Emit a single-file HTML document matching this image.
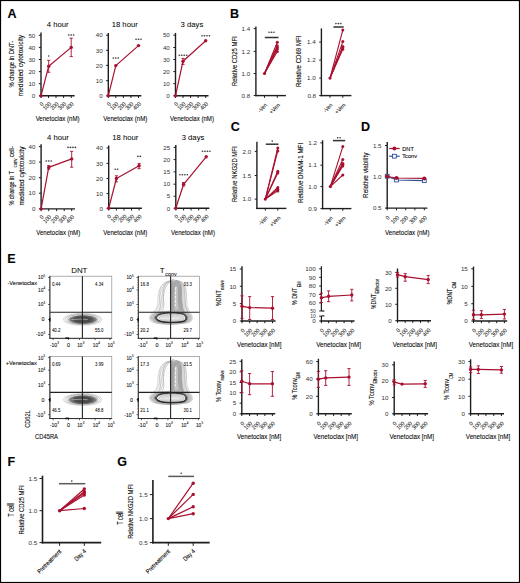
<!DOCTYPE html>
<html><head><meta charset="utf-8"><style>
html,body{margin:0;padding:0;background:#fff}
svg{display:block}
text{font-family:"Liberation Sans",sans-serif;stroke:#2a2a2a;stroke-width:0.11px}
</style></head><body>
<svg width="520" height="583" viewBox="0 0 520 583">
<rect x="0" y="0" width="520" height="583" fill="#fff"/>
<text transform="translate(7.50 17.50)" font-size="12.5" fill="#000" font-weight="bold">A</text>
<line x1="41.00" y1="32.50" x2="41.00" y2="96.50" stroke="#1e1e1e" stroke-width="1.4"/>
<line x1="38.80" y1="35.30" x2="41.00" y2="35.30" stroke="#1e1e1e" stroke-width="1.0"/>
<text transform="translate(35.30 37.53)" font-size="6.2" text-anchor="end" fill="#333" style="stroke-width:0">50</text>
<line x1="38.80" y1="47.40" x2="41.00" y2="47.40" stroke="#1e1e1e" stroke-width="1.0"/>
<text transform="translate(35.30 49.63)" font-size="6.2" text-anchor="end" fill="#333" style="stroke-width:0">40</text>
<line x1="38.80" y1="59.50" x2="41.00" y2="59.50" stroke="#1e1e1e" stroke-width="1.0"/>
<text transform="translate(35.30 61.73)" font-size="6.2" text-anchor="end" fill="#333" style="stroke-width:0">30</text>
<line x1="38.80" y1="71.60" x2="41.00" y2="71.60" stroke="#1e1e1e" stroke-width="1.0"/>
<text transform="translate(35.30 73.83)" font-size="6.2" text-anchor="end" fill="#333" style="stroke-width:0">20</text>
<line x1="38.80" y1="83.70" x2="41.00" y2="83.70" stroke="#1e1e1e" stroke-width="1.0"/>
<text transform="translate(35.30 85.93)" font-size="6.2" text-anchor="end" fill="#333" style="stroke-width:0">10</text>
<line x1="38.80" y1="95.80" x2="41.00" y2="95.80" stroke="#1e1e1e" stroke-width="1.0"/>
<text transform="translate(35.30 98.03)" font-size="6.2" text-anchor="end" fill="#333" style="stroke-width:0">0</text>
<line x1="40.30" y1="95.80" x2="74.60" y2="95.80" stroke="#1e1e1e" stroke-width="1.4"/>
<line x1="41.00" y1="95.80" x2="41.00" y2="98.00" stroke="#1e1e1e" stroke-width="1.0"/>
<line x1="48.50" y1="95.80" x2="48.50" y2="98.00" stroke="#1e1e1e" stroke-width="1.0"/>
<line x1="56.00" y1="95.80" x2="56.00" y2="98.00" stroke="#1e1e1e" stroke-width="1.0"/>
<line x1="63.60" y1="95.80" x2="63.60" y2="98.00" stroke="#1e1e1e" stroke-width="1.0"/>
<line x1="71.20" y1="95.80" x2="71.20" y2="98.00" stroke="#1e1e1e" stroke-width="1.0"/>
<text transform="translate(44.00 104.30) rotate(-45) scale(0.8840 1)" font-size="6.0" text-anchor="end" style="stroke-width:0.03px">0</text>
<text transform="translate(51.50 104.30) rotate(-45) scale(0.8840 1)" font-size="6.0" text-anchor="end" style="stroke-width:0.03px">100</text>
<text transform="translate(59.00 104.30) rotate(-45) scale(0.8840 1)" font-size="6.0" text-anchor="end" style="stroke-width:0.03px">200</text>
<text transform="translate(66.60 104.30) rotate(-45) scale(0.8840 1)" font-size="6.0" text-anchor="end" style="stroke-width:0.03px">300</text>
<text transform="translate(74.20 104.30) rotate(-45) scale(0.8840 1)" font-size="6.0" text-anchor="end" style="stroke-width:0.03px">400</text>
<line x1="48.70" y1="60.30" x2="48.70" y2="72.30" stroke="#a8102f" stroke-width="0.9"/>
<line x1="47.10" y1="60.30" x2="50.30" y2="60.30" stroke="#a8102f" stroke-width="0.9"/>
<line x1="47.10" y1="72.30" x2="50.30" y2="72.30" stroke="#a8102f" stroke-width="0.9"/>
<line x1="71.20" y1="38.20" x2="71.20" y2="56.60" stroke="#a8102f" stroke-width="0.9"/>
<line x1="69.60" y1="38.20" x2="72.80" y2="38.20" stroke="#a8102f" stroke-width="0.9"/>
<line x1="69.60" y1="56.60" x2="72.80" y2="56.60" stroke="#a8102f" stroke-width="0.9"/>
<polyline points="41.00,95.80 48.70,66.20 71.20,47.40" fill="none" stroke="#a8102f" stroke-width="1.2" stroke-linejoin="round"/>
<circle cx="41.00" cy="95.80" r="1.7" fill="#a8102f"/>
<circle cx="48.70" cy="66.20" r="1.7" fill="#a8102f"/>
<circle cx="71.20" cy="47.40" r="1.7" fill="#a8102f"/>
<circle cx="48.70" cy="56.00" r="0.80" fill="#3a3a3a"/>
<line x1="68.70" y1="35.00" x2="73.70" y2="35.00" stroke="#b0b0b0" stroke-width="0.5"/>
<circle cx="68.70" cy="35.00" r="0.80" fill="#3a3a3a"/>
<circle cx="71.20" cy="35.00" r="0.80" fill="#3a3a3a"/>
<circle cx="73.70" cy="35.00" r="0.80" fill="#3a3a3a"/>
<text transform="translate(57.70 26.90) scale(0.9625 1)" font-size="8.0" text-anchor="middle" style="stroke-width:0.04px">4 hour</text>
<text transform="translate(57.60 121.10) scale(0.7807 1)" font-size="7.8" text-anchor="middle">Venetoclax (nM)</text>
<text transform="translate(13.90 64.20) rotate(-90) scale(0.7209 1)" font-size="8.0" text-anchor="middle">% change in DNT-</text>
<text transform="translate(23.30 65.70) rotate(-90) scale(0.8761 1)" font-size="7.6" text-anchor="middle">mediated cytotoxicity</text>
<line x1="108.30" y1="32.90" x2="108.30" y2="96.50" stroke="#1e1e1e" stroke-width="1.4"/>
<line x1="106.10" y1="35.20" x2="108.30" y2="35.20" stroke="#1e1e1e" stroke-width="1.0"/>
<text transform="translate(102.60 37.43)" font-size="6.2" text-anchor="end" fill="#333" style="stroke-width:0">40</text>
<line x1="106.10" y1="50.30" x2="108.30" y2="50.30" stroke="#1e1e1e" stroke-width="1.0"/>
<text transform="translate(102.60 52.53)" font-size="6.2" text-anchor="end" fill="#333" style="stroke-width:0">30</text>
<line x1="106.10" y1="65.40" x2="108.30" y2="65.40" stroke="#1e1e1e" stroke-width="1.0"/>
<text transform="translate(102.60 67.63)" font-size="6.2" text-anchor="end" fill="#333" style="stroke-width:0">20</text>
<line x1="106.10" y1="80.70" x2="108.30" y2="80.70" stroke="#1e1e1e" stroke-width="1.0"/>
<text transform="translate(102.60 82.93)" font-size="6.2" text-anchor="end" fill="#333" style="stroke-width:0">10</text>
<line x1="106.10" y1="95.80" x2="108.30" y2="95.80" stroke="#1e1e1e" stroke-width="1.0"/>
<text transform="translate(102.60 98.03)" font-size="6.2" text-anchor="end" fill="#333" style="stroke-width:0">0</text>
<line x1="107.60" y1="95.80" x2="141.30" y2="95.80" stroke="#1e1e1e" stroke-width="1.4"/>
<line x1="108.30" y1="95.80" x2="108.30" y2="98.00" stroke="#1e1e1e" stroke-width="1.0"/>
<line x1="115.80" y1="95.80" x2="115.80" y2="98.00" stroke="#1e1e1e" stroke-width="1.0"/>
<line x1="123.40" y1="95.80" x2="123.40" y2="98.00" stroke="#1e1e1e" stroke-width="1.0"/>
<line x1="130.90" y1="95.80" x2="130.90" y2="98.00" stroke="#1e1e1e" stroke-width="1.0"/>
<line x1="138.50" y1="95.80" x2="138.50" y2="98.00" stroke="#1e1e1e" stroke-width="1.0"/>
<text transform="translate(111.30 104.30) rotate(-45) scale(0.8840 1)" font-size="6.0" text-anchor="end" style="stroke-width:0.03px">0</text>
<text transform="translate(118.80 104.30) rotate(-45) scale(0.8840 1)" font-size="6.0" text-anchor="end" style="stroke-width:0.03px">100</text>
<text transform="translate(126.40 104.30) rotate(-45) scale(0.8840 1)" font-size="6.0" text-anchor="end" style="stroke-width:0.03px">200</text>
<text transform="translate(133.90 104.30) rotate(-45) scale(0.8840 1)" font-size="6.0" text-anchor="end" style="stroke-width:0.03px">300</text>
<text transform="translate(141.50 104.30) rotate(-45) scale(0.8840 1)" font-size="6.0" text-anchor="end" style="stroke-width:0.03px">400</text>
<polyline points="108.30,95.80 115.80,65.60 138.50,45.60" fill="none" stroke="#a8102f" stroke-width="1.2" stroke-linejoin="round"/>
<circle cx="108.30" cy="95.80" r="1.7" fill="#a8102f"/>
<circle cx="115.80" cy="65.60" r="1.7" fill="#a8102f"/>
<circle cx="138.50" cy="45.60" r="1.7" fill="#a8102f"/>
<line x1="113.30" y1="58.00" x2="118.30" y2="58.00" stroke="#b0b0b0" stroke-width="0.5"/>
<circle cx="113.30" cy="58.00" r="0.80" fill="#3a3a3a"/>
<circle cx="115.80" cy="58.00" r="0.80" fill="#3a3a3a"/>
<circle cx="118.30" cy="58.00" r="0.80" fill="#3a3a3a"/>
<line x1="136.00" y1="39.20" x2="141.00" y2="39.20" stroke="#b0b0b0" stroke-width="0.5"/>
<circle cx="136.00" cy="39.20" r="0.80" fill="#3a3a3a"/>
<circle cx="138.50" cy="39.20" r="0.80" fill="#3a3a3a"/>
<circle cx="141.00" cy="39.20" r="0.80" fill="#3a3a3a"/>
<text transform="translate(124.70 26.90) scale(0.9625 1)" font-size="8.0" text-anchor="middle" style="stroke-width:0.04px">18 hour</text>
<text transform="translate(125.30 121.10) scale(0.7807 1)" font-size="7.8" text-anchor="middle">Venetoclax (nM)</text>
<line x1="175.50" y1="32.90" x2="175.50" y2="96.50" stroke="#1e1e1e" stroke-width="1.4"/>
<line x1="173.30" y1="35.20" x2="175.50" y2="35.20" stroke="#1e1e1e" stroke-width="1.0"/>
<text transform="translate(169.80 37.43)" font-size="6.2" text-anchor="end" fill="#333" style="stroke-width:0">50</text>
<line x1="173.30" y1="47.50" x2="175.50" y2="47.50" stroke="#1e1e1e" stroke-width="1.0"/>
<text transform="translate(169.80 49.73)" font-size="6.2" text-anchor="end" fill="#333" style="stroke-width:0">40</text>
<line x1="173.30" y1="59.50" x2="175.50" y2="59.50" stroke="#1e1e1e" stroke-width="1.0"/>
<text transform="translate(169.80 61.73)" font-size="6.2" text-anchor="end" fill="#333" style="stroke-width:0">30</text>
<line x1="173.30" y1="71.60" x2="175.50" y2="71.60" stroke="#1e1e1e" stroke-width="1.0"/>
<text transform="translate(169.80 73.83)" font-size="6.2" text-anchor="end" fill="#333" style="stroke-width:0">20</text>
<line x1="173.30" y1="83.70" x2="175.50" y2="83.70" stroke="#1e1e1e" stroke-width="1.0"/>
<text transform="translate(169.80 85.93)" font-size="6.2" text-anchor="end" fill="#333" style="stroke-width:0">10</text>
<line x1="173.30" y1="95.80" x2="175.50" y2="95.80" stroke="#1e1e1e" stroke-width="1.0"/>
<text transform="translate(169.80 98.03)" font-size="6.2" text-anchor="end" fill="#333" style="stroke-width:0">0</text>
<line x1="174.80" y1="95.80" x2="208.50" y2="95.80" stroke="#1e1e1e" stroke-width="1.4"/>
<line x1="175.50" y1="95.80" x2="175.50" y2="98.00" stroke="#1e1e1e" stroke-width="1.0"/>
<line x1="183.00" y1="95.80" x2="183.00" y2="98.00" stroke="#1e1e1e" stroke-width="1.0"/>
<line x1="190.60" y1="95.80" x2="190.60" y2="98.00" stroke="#1e1e1e" stroke-width="1.0"/>
<line x1="198.10" y1="95.80" x2="198.10" y2="98.00" stroke="#1e1e1e" stroke-width="1.0"/>
<line x1="205.70" y1="95.80" x2="205.70" y2="98.00" stroke="#1e1e1e" stroke-width="1.0"/>
<text transform="translate(178.50 104.30) rotate(-45) scale(0.8840 1)" font-size="6.0" text-anchor="end" style="stroke-width:0.03px">0</text>
<text transform="translate(186.00 104.30) rotate(-45) scale(0.8840 1)" font-size="6.0" text-anchor="end" style="stroke-width:0.03px">100</text>
<text transform="translate(193.60 104.30) rotate(-45) scale(0.8840 1)" font-size="6.0" text-anchor="end" style="stroke-width:0.03px">200</text>
<text transform="translate(201.10 104.30) rotate(-45) scale(0.8840 1)" font-size="6.0" text-anchor="end" style="stroke-width:0.03px">300</text>
<text transform="translate(208.70 104.30) rotate(-45) scale(0.8840 1)" font-size="6.0" text-anchor="end" style="stroke-width:0.03px">400</text>
<line x1="183.00" y1="58.40" x2="183.00" y2="64.40" stroke="#a8102f" stroke-width="0.9"/>
<line x1="181.40" y1="58.40" x2="184.60" y2="58.40" stroke="#a8102f" stroke-width="0.9"/>
<line x1="181.40" y1="64.40" x2="184.60" y2="64.40" stroke="#a8102f" stroke-width="0.9"/>
<polyline points="175.50,95.80 183.00,61.20 205.70,40.80" fill="none" stroke="#a8102f" stroke-width="1.2" stroke-linejoin="round"/>
<circle cx="175.50" cy="95.80" r="1.7" fill="#a8102f"/>
<circle cx="183.00" cy="61.20" r="1.7" fill="#a8102f"/>
<circle cx="205.70" cy="40.80" r="1.7" fill="#a8102f"/>
<line x1="179.25" y1="55.20" x2="186.75" y2="55.20" stroke="#b0b0b0" stroke-width="0.5"/>
<circle cx="179.25" cy="55.20" r="0.80" fill="#3a3a3a"/>
<circle cx="181.75" cy="55.20" r="0.80" fill="#3a3a3a"/>
<circle cx="184.25" cy="55.20" r="0.80" fill="#3a3a3a"/>
<circle cx="186.75" cy="55.20" r="0.80" fill="#3a3a3a"/>
<line x1="201.95" y1="35.80" x2="209.45" y2="35.80" stroke="#b0b0b0" stroke-width="0.5"/>
<circle cx="201.95" cy="35.80" r="0.80" fill="#3a3a3a"/>
<circle cx="204.45" cy="35.80" r="0.80" fill="#3a3a3a"/>
<circle cx="206.95" cy="35.80" r="0.80" fill="#3a3a3a"/>
<circle cx="209.45" cy="35.80" r="0.80" fill="#3a3a3a"/>
<text transform="translate(191.90 26.90) scale(0.9625 1)" font-size="8.0" text-anchor="middle" style="stroke-width:0.04px">3 days</text>
<text transform="translate(192.00 121.10) scale(0.7807 1)" font-size="7.8" text-anchor="middle">Venetoclax (nM)</text>
<line x1="41.10" y1="144.20" x2="41.10" y2="209.60" stroke="#1e1e1e" stroke-width="1.4"/>
<line x1="38.90" y1="146.60" x2="41.10" y2="146.60" stroke="#1e1e1e" stroke-width="1.0"/>
<text transform="translate(35.40 148.83)" font-size="6.2" text-anchor="end" fill="#333" style="stroke-width:0">40</text>
<line x1="38.90" y1="162.10" x2="41.10" y2="162.10" stroke="#1e1e1e" stroke-width="1.0"/>
<text transform="translate(35.40 164.33)" font-size="6.2" text-anchor="end" fill="#333" style="stroke-width:0">30</text>
<line x1="38.90" y1="177.70" x2="41.10" y2="177.70" stroke="#1e1e1e" stroke-width="1.0"/>
<text transform="translate(35.40 179.93)" font-size="6.2" text-anchor="end" fill="#333" style="stroke-width:0">20</text>
<line x1="38.90" y1="193.20" x2="41.10" y2="193.20" stroke="#1e1e1e" stroke-width="1.0"/>
<text transform="translate(35.40 195.43)" font-size="6.2" text-anchor="end" fill="#333" style="stroke-width:0">10</text>
<line x1="38.90" y1="208.90" x2="41.10" y2="208.90" stroke="#1e1e1e" stroke-width="1.0"/>
<text transform="translate(35.40 211.13)" font-size="6.2" text-anchor="end" fill="#333" style="stroke-width:0">0</text>
<line x1="40.40" y1="208.90" x2="75.00" y2="208.90" stroke="#1e1e1e" stroke-width="1.4"/>
<line x1="41.10" y1="208.90" x2="41.10" y2="211.10" stroke="#1e1e1e" stroke-width="1.0"/>
<line x1="48.70" y1="208.90" x2="48.70" y2="211.10" stroke="#1e1e1e" stroke-width="1.0"/>
<line x1="56.60" y1="208.90" x2="56.60" y2="211.10" stroke="#1e1e1e" stroke-width="1.0"/>
<line x1="64.20" y1="208.90" x2="64.20" y2="211.10" stroke="#1e1e1e" stroke-width="1.0"/>
<line x1="71.70" y1="208.90" x2="71.70" y2="211.10" stroke="#1e1e1e" stroke-width="1.0"/>
<text transform="translate(44.10 217.40) rotate(-45) scale(0.8840 1)" font-size="6.0" text-anchor="end" style="stroke-width:0.03px">0</text>
<text transform="translate(51.70 217.40) rotate(-45) scale(0.8840 1)" font-size="6.0" text-anchor="end" style="stroke-width:0.03px">100</text>
<text transform="translate(59.60 217.40) rotate(-45) scale(0.8840 1)" font-size="6.0" text-anchor="end" style="stroke-width:0.03px">200</text>
<text transform="translate(67.20 217.40) rotate(-45) scale(0.8840 1)" font-size="6.0" text-anchor="end" style="stroke-width:0.03px">300</text>
<text transform="translate(74.70 217.40) rotate(-45) scale(0.8840 1)" font-size="6.0" text-anchor="end" style="stroke-width:0.03px">400</text>
<line x1="48.70" y1="165.60" x2="48.70" y2="169.20" stroke="#a8102f" stroke-width="0.9"/>
<line x1="47.10" y1="165.60" x2="50.30" y2="165.60" stroke="#a8102f" stroke-width="0.9"/>
<line x1="47.10" y1="169.20" x2="50.30" y2="169.20" stroke="#a8102f" stroke-width="0.9"/>
<line x1="71.70" y1="151.30" x2="71.70" y2="167.20" stroke="#a8102f" stroke-width="0.9"/>
<line x1="70.10" y1="151.30" x2="73.30" y2="151.30" stroke="#a8102f" stroke-width="0.9"/>
<line x1="70.10" y1="167.20" x2="73.30" y2="167.20" stroke="#a8102f" stroke-width="0.9"/>
<polyline points="41.10,208.90 48.70,167.40 71.70,158.90" fill="none" stroke="#a8102f" stroke-width="1.2" stroke-linejoin="round"/>
<circle cx="41.10" cy="208.90" r="1.7" fill="#a8102f"/>
<circle cx="48.70" cy="167.40" r="1.7" fill="#a8102f"/>
<circle cx="71.70" cy="158.90" r="1.7" fill="#a8102f"/>
<line x1="46.20" y1="161.00" x2="51.20" y2="161.00" stroke="#b0b0b0" stroke-width="0.5"/>
<circle cx="46.20" cy="161.00" r="0.80" fill="#3a3a3a"/>
<circle cx="48.70" cy="161.00" r="0.80" fill="#3a3a3a"/>
<circle cx="51.20" cy="161.00" r="0.80" fill="#3a3a3a"/>
<line x1="67.95" y1="147.40" x2="75.45" y2="147.40" stroke="#b0b0b0" stroke-width="0.5"/>
<circle cx="67.95" cy="147.40" r="0.80" fill="#3a3a3a"/>
<circle cx="70.45" cy="147.40" r="0.80" fill="#3a3a3a"/>
<circle cx="72.95" cy="147.40" r="0.80" fill="#3a3a3a"/>
<circle cx="75.45" cy="147.40" r="0.80" fill="#3a3a3a"/>
<text transform="translate(58.00 139.60) scale(0.9625 1)" font-size="8.0" text-anchor="middle" style="stroke-width:0.04px">4 hour</text>
<text transform="translate(58.20 235.30) scale(0.7807 1)" font-size="7.8" text-anchor="middle">Venetoclax (nM)</text>
<text transform="translate(14.00 188.20) rotate(-90) scale(0.6804 1)" font-size="8.0" text-anchor="middle">% change in T</text>
<text transform="translate(17.40 163.00) rotate(-90) scale(0.8103 1)" font-size="5.2" text-anchor="middle">conv</text>
<text transform="translate(14.00 151.60) rotate(-90) scale(0.7499 1)" font-size="8.0" text-anchor="middle">cell-</text>
<text transform="translate(23.80 176.00) rotate(-90) scale(0.8392 1)" font-size="7.6" text-anchor="middle">mediated cytotoxicity</text>
<line x1="108.70" y1="145.50" x2="108.70" y2="209.00" stroke="#1e1e1e" stroke-width="1.4"/>
<line x1="106.50" y1="147.90" x2="108.70" y2="147.90" stroke="#1e1e1e" stroke-width="1.0"/>
<text transform="translate(103.00 150.13)" font-size="6.2" text-anchor="end" fill="#333" style="stroke-width:0">40</text>
<line x1="106.50" y1="163.40" x2="108.70" y2="163.40" stroke="#1e1e1e" stroke-width="1.0"/>
<text transform="translate(103.00 165.63)" font-size="6.2" text-anchor="end" fill="#333" style="stroke-width:0">30</text>
<line x1="106.50" y1="178.50" x2="108.70" y2="178.50" stroke="#1e1e1e" stroke-width="1.0"/>
<text transform="translate(103.00 180.73)" font-size="6.2" text-anchor="end" fill="#333" style="stroke-width:0">20</text>
<line x1="106.50" y1="193.60" x2="108.70" y2="193.60" stroke="#1e1e1e" stroke-width="1.0"/>
<text transform="translate(103.00 195.83)" font-size="6.2" text-anchor="end" fill="#333" style="stroke-width:0">10</text>
<line x1="106.50" y1="208.30" x2="108.70" y2="208.30" stroke="#1e1e1e" stroke-width="1.0"/>
<text transform="translate(103.00 210.53)" font-size="6.2" text-anchor="end" fill="#333" style="stroke-width:0">0</text>
<line x1="108.00" y1="208.30" x2="141.90" y2="208.30" stroke="#1e1e1e" stroke-width="1.4"/>
<line x1="108.70" y1="208.30" x2="108.70" y2="210.50" stroke="#1e1e1e" stroke-width="1.0"/>
<line x1="116.40" y1="208.30" x2="116.40" y2="210.50" stroke="#1e1e1e" stroke-width="1.0"/>
<line x1="124.00" y1="208.30" x2="124.00" y2="210.50" stroke="#1e1e1e" stroke-width="1.0"/>
<line x1="131.50" y1="208.30" x2="131.50" y2="210.50" stroke="#1e1e1e" stroke-width="1.0"/>
<line x1="139.10" y1="208.30" x2="139.10" y2="210.50" stroke="#1e1e1e" stroke-width="1.0"/>
<text transform="translate(111.70 216.80) rotate(-45) scale(0.8840 1)" font-size="6.0" text-anchor="end" style="stroke-width:0.03px">0</text>
<text transform="translate(119.40 216.80) rotate(-45) scale(0.8840 1)" font-size="6.0" text-anchor="end" style="stroke-width:0.03px">100</text>
<text transform="translate(127.00 216.80) rotate(-45) scale(0.8840 1)" font-size="6.0" text-anchor="end" style="stroke-width:0.03px">200</text>
<text transform="translate(134.50 216.80) rotate(-45) scale(0.8840 1)" font-size="6.0" text-anchor="end" style="stroke-width:0.03px">300</text>
<text transform="translate(142.10 216.80) rotate(-45) scale(0.8840 1)" font-size="6.0" text-anchor="end" style="stroke-width:0.03px">400</text>
<line x1="116.40" y1="175.80" x2="116.40" y2="181.90" stroke="#a8102f" stroke-width="0.9"/>
<line x1="114.80" y1="175.80" x2="118.00" y2="175.80" stroke="#a8102f" stroke-width="0.9"/>
<line x1="114.80" y1="181.90" x2="118.00" y2="181.90" stroke="#a8102f" stroke-width="0.9"/>
<line x1="139.10" y1="163.60" x2="139.10" y2="168.70" stroke="#a8102f" stroke-width="0.9"/>
<line x1="137.50" y1="163.60" x2="140.70" y2="163.60" stroke="#a8102f" stroke-width="0.9"/>
<line x1="137.50" y1="168.70" x2="140.70" y2="168.70" stroke="#a8102f" stroke-width="0.9"/>
<polyline points="108.70,208.30 116.40,178.50 139.10,165.80" fill="none" stroke="#a8102f" stroke-width="1.2" stroke-linejoin="round"/>
<circle cx="108.70" cy="208.30" r="1.7" fill="#a8102f"/>
<circle cx="116.40" cy="178.50" r="1.7" fill="#a8102f"/>
<circle cx="139.10" cy="165.80" r="1.7" fill="#a8102f"/>
<line x1="115.15" y1="169.20" x2="117.65" y2="169.20" stroke="#b0b0b0" stroke-width="0.5"/>
<circle cx="115.15" cy="169.20" r="0.80" fill="#3a3a3a"/>
<circle cx="117.65" cy="169.20" r="0.80" fill="#3a3a3a"/>
<line x1="137.85" y1="156.40" x2="140.35" y2="156.40" stroke="#b0b0b0" stroke-width="0.5"/>
<circle cx="137.85" cy="156.40" r="0.80" fill="#3a3a3a"/>
<circle cx="140.35" cy="156.40" r="0.80" fill="#3a3a3a"/>
<text transform="translate(125.30 139.60) scale(0.9625 1)" font-size="8.0" text-anchor="middle" style="stroke-width:0.04px">18 hour</text>
<text transform="translate(125.30 235.30) scale(0.7807 1)" font-size="7.8" text-anchor="middle">Venetoclax (nM)</text>
<line x1="175.80" y1="145.00" x2="175.80" y2="209.00" stroke="#1e1e1e" stroke-width="1.4"/>
<line x1="173.60" y1="147.40" x2="175.80" y2="147.40" stroke="#1e1e1e" stroke-width="1.0"/>
<text transform="translate(170.10 149.63)" font-size="6.2" text-anchor="end" fill="#333" style="stroke-width:0">25</text>
<line x1="173.60" y1="159.60" x2="175.80" y2="159.60" stroke="#1e1e1e" stroke-width="1.0"/>
<text transform="translate(170.10 161.83)" font-size="6.2" text-anchor="end" fill="#333" style="stroke-width:0">20</text>
<line x1="173.60" y1="171.90" x2="175.80" y2="171.90" stroke="#1e1e1e" stroke-width="1.0"/>
<text transform="translate(170.10 174.13)" font-size="6.2" text-anchor="end" fill="#333" style="stroke-width:0">15</text>
<line x1="173.60" y1="184.20" x2="175.80" y2="184.20" stroke="#1e1e1e" stroke-width="1.0"/>
<text transform="translate(170.10 186.43)" font-size="6.2" text-anchor="end" fill="#333" style="stroke-width:0">10</text>
<line x1="173.60" y1="196.20" x2="175.80" y2="196.20" stroke="#1e1e1e" stroke-width="1.0"/>
<text transform="translate(170.10 198.43)" font-size="6.2" text-anchor="end" fill="#333" style="stroke-width:0">5</text>
<line x1="173.60" y1="208.30" x2="175.80" y2="208.30" stroke="#1e1e1e" stroke-width="1.0"/>
<text transform="translate(170.10 210.53)" font-size="6.2" text-anchor="end" fill="#333" style="stroke-width:0">0</text>
<line x1="175.10" y1="208.30" x2="209.40" y2="208.30" stroke="#1e1e1e" stroke-width="1.4"/>
<line x1="175.80" y1="208.30" x2="175.80" y2="210.50" stroke="#1e1e1e" stroke-width="1.0"/>
<line x1="183.60" y1="208.30" x2="183.60" y2="210.50" stroke="#1e1e1e" stroke-width="1.0"/>
<line x1="191.10" y1="208.30" x2="191.10" y2="210.50" stroke="#1e1e1e" stroke-width="1.0"/>
<line x1="198.70" y1="208.30" x2="198.70" y2="210.50" stroke="#1e1e1e" stroke-width="1.0"/>
<line x1="206.20" y1="208.30" x2="206.20" y2="210.50" stroke="#1e1e1e" stroke-width="1.0"/>
<text transform="translate(178.80 216.80) rotate(-45) scale(0.8840 1)" font-size="6.0" text-anchor="end" style="stroke-width:0.03px">0</text>
<text transform="translate(186.60 216.80) rotate(-45) scale(0.8840 1)" font-size="6.0" text-anchor="end" style="stroke-width:0.03px">100</text>
<text transform="translate(194.10 216.80) rotate(-45) scale(0.8840 1)" font-size="6.0" text-anchor="end" style="stroke-width:0.03px">200</text>
<text transform="translate(201.70 216.80) rotate(-45) scale(0.8840 1)" font-size="6.0" text-anchor="end" style="stroke-width:0.03px">300</text>
<text transform="translate(209.20 216.80) rotate(-45) scale(0.8840 1)" font-size="6.0" text-anchor="end" style="stroke-width:0.03px">400</text>
<line x1="183.60" y1="182.60" x2="183.60" y2="186.00" stroke="#a8102f" stroke-width="0.9"/>
<line x1="182.00" y1="182.60" x2="185.20" y2="182.60" stroke="#a8102f" stroke-width="0.9"/>
<line x1="182.00" y1="186.00" x2="185.20" y2="186.00" stroke="#a8102f" stroke-width="0.9"/>
<polyline points="175.80,208.30 183.60,184.30 206.20,156.80" fill="none" stroke="#a8102f" stroke-width="1.2" stroke-linejoin="round"/>
<circle cx="175.80" cy="208.30" r="1.7" fill="#a8102f"/>
<circle cx="183.60" cy="184.30" r="1.7" fill="#a8102f"/>
<circle cx="206.20" cy="156.80" r="1.7" fill="#a8102f"/>
<line x1="179.85" y1="174.70" x2="187.35" y2="174.70" stroke="#b0b0b0" stroke-width="0.5"/>
<circle cx="179.85" cy="174.70" r="0.80" fill="#3a3a3a"/>
<circle cx="182.35" cy="174.70" r="0.80" fill="#3a3a3a"/>
<circle cx="184.85" cy="174.70" r="0.80" fill="#3a3a3a"/>
<circle cx="187.35" cy="174.70" r="0.80" fill="#3a3a3a"/>
<line x1="202.45" y1="151.30" x2="209.95" y2="151.30" stroke="#b0b0b0" stroke-width="0.5"/>
<circle cx="202.45" cy="151.30" r="0.80" fill="#3a3a3a"/>
<circle cx="204.95" cy="151.30" r="0.80" fill="#3a3a3a"/>
<circle cx="207.45" cy="151.30" r="0.80" fill="#3a3a3a"/>
<circle cx="209.95" cy="151.30" r="0.80" fill="#3a3a3a"/>
<text transform="translate(193.00 139.60) scale(0.9625 1)" font-size="8.0" text-anchor="middle" style="stroke-width:0.04px">3 days</text>
<text transform="translate(193.00 235.30) scale(0.7807 1)" font-size="7.8" text-anchor="middle">Venetoclax (nM)</text>
<text transform="translate(229.90 17.60)" font-size="12.5" fill="#000" font-weight="bold">B</text>
<line x1="255.90" y1="26.50" x2="255.90" y2="96.30" stroke="#1e1e1e" stroke-width="1.4"/>
<line x1="253.70" y1="28.60" x2="255.90" y2="28.60" stroke="#1e1e1e" stroke-width="1.0"/>
<text transform="translate(250.20 30.83)" font-size="6.2" text-anchor="end" fill="#333" style="stroke-width:0">1.4</text>
<line x1="253.70" y1="51.40" x2="255.90" y2="51.40" stroke="#1e1e1e" stroke-width="1.0"/>
<text transform="translate(250.20 53.63)" font-size="6.2" text-anchor="end" fill="#333" style="stroke-width:0">1.2</text>
<line x1="253.70" y1="73.50" x2="255.90" y2="73.50" stroke="#1e1e1e" stroke-width="1.0"/>
<text transform="translate(250.20 75.73)" font-size="6.2" text-anchor="end" fill="#333" style="stroke-width:0">1.0</text>
<line x1="253.70" y1="95.50" x2="255.90" y2="95.50" stroke="#1e1e1e" stroke-width="1.0"/>
<text transform="translate(250.20 97.73)" font-size="6.2" text-anchor="end" fill="#333" style="stroke-width:0">0.8</text>
<line x1="255.20" y1="95.60" x2="285.90" y2="95.60" stroke="#1e1e1e" stroke-width="1.4"/>
<line x1="264.50" y1="95.60" x2="264.50" y2="97.80" stroke="#1e1e1e" stroke-width="1.0"/>
<line x1="277.30" y1="95.60" x2="277.30" y2="97.80" stroke="#1e1e1e" stroke-width="1.0"/>
<text transform="translate(267.50 105.60) rotate(-45) scale(0.8263 1)" font-size="6.0" text-anchor="end" style="stroke-width:0.03px">-Ven</text>
<text transform="translate(280.30 105.60) rotate(-45) scale(0.9098 1)" font-size="6.0" text-anchor="end" style="stroke-width:0.03px">+Ven</text>
<line x1="264.50" y1="73.50" x2="277.30" y2="42.30" stroke="#a8102f" stroke-width="1.1"/>
<line x1="264.50" y1="73.50" x2="277.30" y2="45.70" stroke="#a8102f" stroke-width="1.1"/>
<line x1="264.50" y1="73.50" x2="277.30" y2="47.40" stroke="#a8102f" stroke-width="1.1"/>
<line x1="264.50" y1="73.50" x2="277.30" y2="49.00" stroke="#a8102f" stroke-width="1.1"/>
<line x1="264.50" y1="73.50" x2="277.30" y2="51.40" stroke="#a8102f" stroke-width="1.1"/>
<circle cx="264.50" cy="73.50" r="1.6" fill="#a8102f"/>
<circle cx="277.30" cy="42.30" r="1.5" fill="#a8102f"/>
<circle cx="277.30" cy="45.70" r="1.5" fill="#a8102f"/>
<circle cx="277.30" cy="47.40" r="1.5" fill="#a8102f"/>
<circle cx="277.30" cy="49.00" r="1.5" fill="#a8102f"/>
<circle cx="277.30" cy="51.40" r="1.5" fill="#a8102f"/>
<line x1="264.80" y1="37.50" x2="278.50" y2="37.50" stroke="#333" stroke-width="1.5"/>
<line x1="269.00" y1="32.30" x2="274.00" y2="32.30" stroke="#b0b0b0" stroke-width="0.5"/>
<circle cx="269.00" cy="32.30" r="0.80" fill="#3a3a3a"/>
<circle cx="271.50" cy="32.30" r="0.80" fill="#3a3a3a"/>
<circle cx="274.00" cy="32.30" r="0.80" fill="#3a3a3a"/>
<text transform="translate(236.90 61.20) rotate(-90) scale(0.7845 1)" font-size="7.5" text-anchor="middle">Relative CD25 MFI</text>
<line x1="321.40" y1="28.40" x2="321.40" y2="96.30" stroke="#1e1e1e" stroke-width="1.4"/>
<line x1="319.20" y1="42.10" x2="321.40" y2="42.10" stroke="#1e1e1e" stroke-width="1.0"/>
<text transform="translate(315.70 44.33)" font-size="6.2" text-anchor="end" fill="#333" style="stroke-width:0">1.4</text>
<line x1="319.20" y1="60.10" x2="321.40" y2="60.10" stroke="#1e1e1e" stroke-width="1.0"/>
<text transform="translate(315.70 62.33)" font-size="6.2" text-anchor="end" fill="#333" style="stroke-width:0">1.2</text>
<line x1="319.20" y1="78.10" x2="321.40" y2="78.10" stroke="#1e1e1e" stroke-width="1.0"/>
<text transform="translate(315.70 80.33)" font-size="6.2" text-anchor="end" fill="#333" style="stroke-width:0">1.0</text>
<line x1="320.70" y1="95.60" x2="351.40" y2="95.60" stroke="#1e1e1e" stroke-width="1.4"/>
<line x1="330.00" y1="95.60" x2="330.00" y2="97.80" stroke="#1e1e1e" stroke-width="1.0"/>
<line x1="342.80" y1="95.60" x2="342.80" y2="97.80" stroke="#1e1e1e" stroke-width="1.0"/>
<text transform="translate(333.00 105.60) rotate(-45) scale(0.8263 1)" font-size="6.0" text-anchor="end" style="stroke-width:0.03px">-Ven</text>
<text transform="translate(345.80 105.60) rotate(-45) scale(0.9098 1)" font-size="6.0" text-anchor="end" style="stroke-width:0.03px">+Ven</text>
<line x1="330.00" y1="78.10" x2="342.80" y2="30.10" stroke="#a8102f" stroke-width="1.1"/>
<line x1="330.00" y1="78.10" x2="342.80" y2="41.60" stroke="#a8102f" stroke-width="1.1"/>
<line x1="330.00" y1="78.10" x2="342.80" y2="46.40" stroke="#a8102f" stroke-width="1.1"/>
<line x1="330.00" y1="78.10" x2="342.80" y2="47.60" stroke="#a8102f" stroke-width="1.1"/>
<line x1="330.00" y1="78.10" x2="342.80" y2="49.30" stroke="#a8102f" stroke-width="1.1"/>
<circle cx="330.00" cy="78.10" r="1.6" fill="#a8102f"/>
<circle cx="342.80" cy="30.10" r="1.5" fill="#a8102f"/>
<circle cx="342.80" cy="41.60" r="1.5" fill="#a8102f"/>
<circle cx="342.80" cy="46.40" r="1.5" fill="#a8102f"/>
<circle cx="342.80" cy="47.60" r="1.5" fill="#a8102f"/>
<circle cx="342.80" cy="49.30" r="1.5" fill="#a8102f"/>
<line x1="333.40" y1="27.00" x2="343.70" y2="27.00" stroke="#333" stroke-width="1.5"/>
<line x1="335.90" y1="23.60" x2="340.90" y2="23.60" stroke="#b0b0b0" stroke-width="0.5"/>
<circle cx="335.90" cy="23.60" r="0.80" fill="#3a3a3a"/>
<circle cx="338.40" cy="23.60" r="0.80" fill="#3a3a3a"/>
<circle cx="340.90" cy="23.60" r="0.80" fill="#3a3a3a"/>
<text transform="translate(301.10 61.30) rotate(-90) scale(0.8113 1)" font-size="7.5" text-anchor="middle">Relative CD69 MFI</text>
<text transform="translate(316.00 97.83)" font-size="6.2" text-anchor="end" fill="#333" style="stroke-width:0">0.8</text>
<line x1="319.20" y1="95.60" x2="321.40" y2="95.60" stroke="#1e1e1e" stroke-width="1.0"/>
<text transform="translate(230.70 131.00)" font-size="12.5" fill="#000" font-weight="bold">C</text>
<line x1="256.90" y1="141.70" x2="256.90" y2="209.10" stroke="#1e1e1e" stroke-width="1.4"/>
<line x1="254.70" y1="151.40" x2="256.90" y2="151.40" stroke="#1e1e1e" stroke-width="1.0"/>
<text transform="translate(251.20 153.63)" font-size="6.2" text-anchor="end" fill="#333" style="stroke-width:0">2.0</text>
<line x1="254.70" y1="175.50" x2="256.90" y2="175.50" stroke="#1e1e1e" stroke-width="1.0"/>
<text transform="translate(251.20 177.73)" font-size="6.2" text-anchor="end" fill="#333" style="stroke-width:0">1.5</text>
<line x1="254.70" y1="199.10" x2="256.90" y2="199.10" stroke="#1e1e1e" stroke-width="1.0"/>
<text transform="translate(251.20 201.33)" font-size="6.2" text-anchor="end" fill="#333" style="stroke-width:0">1.0</text>
<line x1="256.20" y1="208.40" x2="286.40" y2="208.40" stroke="#1e1e1e" stroke-width="1.4"/>
<line x1="265.30" y1="208.40" x2="265.30" y2="210.60" stroke="#1e1e1e" stroke-width="1.0"/>
<line x1="277.80" y1="208.40" x2="277.80" y2="210.60" stroke="#1e1e1e" stroke-width="1.0"/>
<text transform="translate(268.30 218.40) rotate(-45) scale(0.8263 1)" font-size="6.0" text-anchor="end" style="stroke-width:0.03px">-Ven</text>
<text transform="translate(280.80 218.40) rotate(-45) scale(0.9098 1)" font-size="6.0" text-anchor="end" style="stroke-width:0.03px">+Ven</text>
<line x1="265.30" y1="199.10" x2="277.80" y2="148.00" stroke="#a8102f" stroke-width="1.1"/>
<line x1="265.30" y1="199.10" x2="277.80" y2="150.90" stroke="#a8102f" stroke-width="1.1"/>
<line x1="265.30" y1="199.10" x2="277.80" y2="171.20" stroke="#a8102f" stroke-width="1.1"/>
<line x1="265.30" y1="199.10" x2="277.80" y2="172.90" stroke="#a8102f" stroke-width="1.1"/>
<line x1="265.30" y1="199.10" x2="277.80" y2="187.50" stroke="#a8102f" stroke-width="1.1"/>
<line x1="265.30" y1="199.10" x2="277.80" y2="189.20" stroke="#a8102f" stroke-width="1.1"/>
<line x1="265.30" y1="199.10" x2="277.80" y2="190.90" stroke="#a8102f" stroke-width="1.1"/>
<circle cx="265.30" cy="199.10" r="1.6" fill="#a8102f"/>
<circle cx="277.80" cy="148.00" r="1.5" fill="#a8102f"/>
<circle cx="277.80" cy="150.90" r="1.5" fill="#a8102f"/>
<circle cx="277.80" cy="171.20" r="1.5" fill="#a8102f"/>
<circle cx="277.80" cy="172.90" r="1.5" fill="#a8102f"/>
<circle cx="277.80" cy="187.50" r="1.5" fill="#a8102f"/>
<circle cx="277.80" cy="189.20" r="1.5" fill="#a8102f"/>
<circle cx="277.80" cy="190.90" r="1.5" fill="#a8102f"/>
<line x1="265.80" y1="144.20" x2="278.50" y2="144.20" stroke="#333" stroke-width="1.5"/>
<circle cx="272.20" cy="141.10" r="0.80" fill="#3a3a3a"/>
<text transform="translate(237.30 174.20) rotate(-90) scale(0.7955 1)" font-size="7.5" text-anchor="middle">Relative NKG2D MFI</text>
<line x1="322.60" y1="140.30" x2="322.60" y2="209.30" stroke="#1e1e1e" stroke-width="1.4"/>
<line x1="320.40" y1="142.90" x2="322.60" y2="142.90" stroke="#1e1e1e" stroke-width="1.0"/>
<text transform="translate(316.90 145.13)" font-size="6.2" text-anchor="end" fill="#333" style="stroke-width:0">1.2</text>
<line x1="320.40" y1="165.20" x2="322.60" y2="165.20" stroke="#1e1e1e" stroke-width="1.0"/>
<text transform="translate(316.90 167.43)" font-size="6.2" text-anchor="end" fill="#333" style="stroke-width:0">1.1</text>
<line x1="320.40" y1="186.60" x2="322.60" y2="186.60" stroke="#1e1e1e" stroke-width="1.0"/>
<text transform="translate(316.90 188.83)" font-size="6.2" text-anchor="end" fill="#333" style="stroke-width:0">1.0</text>
<line x1="320.40" y1="208.60" x2="322.60" y2="208.60" stroke="#1e1e1e" stroke-width="1.0"/>
<text transform="translate(316.90 210.83)" font-size="6.2" text-anchor="end" fill="#333" style="stroke-width:0">0.9</text>
<line x1="321.90" y1="208.60" x2="351.40" y2="208.60" stroke="#1e1e1e" stroke-width="1.4"/>
<line x1="330.30" y1="208.60" x2="330.30" y2="210.80" stroke="#1e1e1e" stroke-width="1.0"/>
<line x1="342.80" y1="208.60" x2="342.80" y2="210.80" stroke="#1e1e1e" stroke-width="1.0"/>
<text transform="translate(333.30 218.60) rotate(-45) scale(0.8263 1)" font-size="6.0" text-anchor="end" style="stroke-width:0.03px">-Ven</text>
<text transform="translate(345.80 218.60) rotate(-45) scale(0.9098 1)" font-size="6.0" text-anchor="end" style="stroke-width:0.03px">+Ven</text>
<line x1="330.30" y1="186.60" x2="342.80" y2="146.60" stroke="#a8102f" stroke-width="1.1"/>
<line x1="330.30" y1="186.60" x2="342.80" y2="159.50" stroke="#a8102f" stroke-width="1.1"/>
<line x1="330.30" y1="186.60" x2="342.80" y2="163.40" stroke="#a8102f" stroke-width="1.1"/>
<line x1="330.30" y1="186.60" x2="342.80" y2="164.30" stroke="#a8102f" stroke-width="1.1"/>
<line x1="330.30" y1="186.60" x2="342.80" y2="166.00" stroke="#a8102f" stroke-width="1.1"/>
<line x1="330.30" y1="186.60" x2="342.80" y2="175.00" stroke="#a8102f" stroke-width="1.1"/>
<circle cx="330.30" cy="186.60" r="1.6" fill="#a8102f"/>
<circle cx="342.80" cy="146.60" r="1.5" fill="#a8102f"/>
<circle cx="342.80" cy="159.50" r="1.5" fill="#a8102f"/>
<circle cx="342.80" cy="163.40" r="1.5" fill="#a8102f"/>
<circle cx="342.80" cy="164.30" r="1.5" fill="#a8102f"/>
<circle cx="342.80" cy="166.00" r="1.5" fill="#a8102f"/>
<circle cx="342.80" cy="175.00" r="1.5" fill="#a8102f"/>
<line x1="332.90" y1="140.60" x2="345.20" y2="140.60" stroke="#333" stroke-width="1.5"/>
<line x1="337.65" y1="137.70" x2="340.15" y2="137.70" stroke="#b0b0b0" stroke-width="0.5"/>
<circle cx="337.65" cy="137.70" r="0.80" fill="#3a3a3a"/>
<circle cx="340.15" cy="137.70" r="0.80" fill="#3a3a3a"/>
<text transform="translate(302.50 172.90) rotate(-90) scale(0.8239 1)" font-size="7.5" text-anchor="middle">Relative DNAM-1  MFI</text>
<text transform="translate(361.10 131.00)" font-size="12.5" fill="#000" font-weight="bold">D</text>
<line x1="387.20" y1="141.90" x2="387.20" y2="208.80" stroke="#1e1e1e" stroke-width="1.4"/>
<line x1="385.00" y1="145.50" x2="387.20" y2="145.50" stroke="#1e1e1e" stroke-width="1.0"/>
<text transform="translate(381.50 147.73)" font-size="6.2" text-anchor="end" fill="#333" style="stroke-width:0">1.5</text>
<line x1="385.00" y1="176.50" x2="387.20" y2="176.50" stroke="#1e1e1e" stroke-width="1.0"/>
<text transform="translate(381.50 178.73)" font-size="6.2" text-anchor="end" fill="#333" style="stroke-width:0">1.0</text>
<line x1="385.00" y1="208.10" x2="387.20" y2="208.10" stroke="#1e1e1e" stroke-width="1.0"/>
<text transform="translate(381.50 210.33)" font-size="6.2" text-anchor="end" fill="#333" style="stroke-width:0">0.5</text>
<line x1="386.50" y1="208.10" x2="427.40" y2="208.10" stroke="#1e1e1e" stroke-width="1.4"/>
<line x1="387.20" y1="208.10" x2="387.20" y2="210.30" stroke="#1e1e1e" stroke-width="1.0"/>
<line x1="396.50" y1="208.10" x2="396.50" y2="210.30" stroke="#1e1e1e" stroke-width="1.0"/>
<line x1="405.70" y1="208.10" x2="405.70" y2="210.30" stroke="#1e1e1e" stroke-width="1.0"/>
<line x1="414.90" y1="208.10" x2="414.90" y2="210.30" stroke="#1e1e1e" stroke-width="1.0"/>
<line x1="424.30" y1="208.10" x2="424.30" y2="210.30" stroke="#1e1e1e" stroke-width="1.0"/>
<text transform="translate(390.20 218.10) rotate(-45) scale(0.8840 1)" font-size="6.0" text-anchor="end" style="stroke-width:0.03px">0</text>
<text transform="translate(399.50 218.10) rotate(-45) scale(0.8840 1)" font-size="6.0" text-anchor="end" style="stroke-width:0.03px">100</text>
<text transform="translate(408.70 218.10) rotate(-45) scale(0.8840 1)" font-size="6.0" text-anchor="end" style="stroke-width:0.03px">200</text>
<text transform="translate(417.90 218.10) rotate(-45) scale(0.8840 1)" font-size="6.0" text-anchor="end" style="stroke-width:0.03px">300</text>
<text transform="translate(427.30 218.10) rotate(-45) scale(0.8840 1)" font-size="6.0" text-anchor="end" style="stroke-width:0.03px">400</text>
<polyline points="387.20,176.20 396.50,180.00 424.30,180.70" fill="none" stroke="#2e4d96" stroke-width="1.2" stroke-linejoin="round"/>
<rect x="385.30" y="174.30" width="3.8" height="3.8" fill="#fff" stroke="#2e4d96" stroke-width="0.9"/>
<rect x="394.60" y="178.10" width="3.8" height="3.8" fill="#fff" stroke="#2e4d96" stroke-width="0.9"/>
<rect x="422.40" y="178.80" width="3.8" height="3.8" fill="#fff" stroke="#2e4d96" stroke-width="0.9"/>
<polyline points="387.20,176.50 396.50,178.00 424.30,178.40" fill="none" stroke="#a8102f" stroke-width="1.2" stroke-linejoin="round"/>
<circle cx="387.20" cy="176.50" r="2.0" fill="#a8102f"/>
<circle cx="396.50" cy="178.00" r="2.0" fill="#a8102f"/>
<circle cx="424.30" cy="178.40" r="2.0" fill="#a8102f"/>
<line x1="389.20" y1="148.50" x2="399.70" y2="148.50" stroke="#a8102f" stroke-width="1.2"/>
<circle cx="394.40" cy="148.50" r="2.0" fill="#a8102f"/>
<text transform="translate(402.30 150.60) scale(0.9326 1)" font-size="6.0">DNT</text>
<line x1="389.20" y1="156.20" x2="399.70" y2="156.20" stroke="#2e4d96" stroke-width="1.2"/>
<rect x="392.50" y="154.30" width="3.8" height="3.8" fill="#fff" stroke="#2e4d96" stroke-width="0.9"/>
<text transform="translate(402.30 158.30) scale(0.9379 1)" font-size="6.0">Tconv</text>
<text transform="translate(368.40 175.30) rotate(-90) scale(0.8100 1)" font-size="7.8" text-anchor="middle">Relative viability</text>
<text transform="translate(407.30 235.00) scale(0.7913 1)" font-size="7.8" text-anchor="middle">Venetoclax (nM)</text>
<text transform="translate(7.30 262.70)" font-size="12.5" fill="#000" font-weight="bold">E</text>
<line x1="242.00" y1="266.20" x2="242.00" y2="321.70" stroke="#1e1e1e" stroke-width="1.4"/>
<line x1="239.80" y1="269.00" x2="242.00" y2="269.00" stroke="#1e1e1e" stroke-width="1.0"/>
<text transform="translate(236.30 271.23)" font-size="6.2" text-anchor="end" fill="#333" style="stroke-width:0">15</text>
<line x1="239.80" y1="286.30" x2="242.00" y2="286.30" stroke="#1e1e1e" stroke-width="1.0"/>
<text transform="translate(236.30 288.53)" font-size="6.2" text-anchor="end" fill="#333" style="stroke-width:0">10</text>
<line x1="239.80" y1="303.70" x2="242.00" y2="303.70" stroke="#1e1e1e" stroke-width="1.0"/>
<text transform="translate(236.30 305.93)" font-size="6.2" text-anchor="end" fill="#333" style="stroke-width:0">5</text>
<line x1="239.80" y1="321.00" x2="242.00" y2="321.00" stroke="#1e1e1e" stroke-width="1.0"/>
<text transform="translate(236.30 323.23)" font-size="6.2" text-anchor="end" fill="#333" style="stroke-width:0">0</text>
<line x1="241.30" y1="321.00" x2="275.60" y2="321.00" stroke="#1e1e1e" stroke-width="1.4"/>
<line x1="242.00" y1="321.00" x2="242.00" y2="323.20" stroke="#1e1e1e" stroke-width="1.0"/>
<line x1="249.70" y1="321.00" x2="249.70" y2="323.20" stroke="#1e1e1e" stroke-width="1.0"/>
<line x1="257.10" y1="321.00" x2="257.10" y2="323.20" stroke="#1e1e1e" stroke-width="1.0"/>
<line x1="264.80" y1="321.00" x2="264.80" y2="323.20" stroke="#1e1e1e" stroke-width="1.0"/>
<line x1="272.50" y1="321.00" x2="272.50" y2="323.20" stroke="#1e1e1e" stroke-width="1.0"/>
<text transform="translate(245.00 331.00) rotate(-45) scale(0.8840 1)" font-size="6.0" text-anchor="end" style="stroke-width:0.03px">0</text>
<text transform="translate(252.70 331.00) rotate(-45) scale(0.8840 1)" font-size="6.0" text-anchor="end" style="stroke-width:0.03px">100</text>
<text transform="translate(260.10 331.00) rotate(-45) scale(0.8840 1)" font-size="6.0" text-anchor="end" style="stroke-width:0.03px">200</text>
<text transform="translate(267.80 331.00) rotate(-45) scale(0.8840 1)" font-size="6.0" text-anchor="end" style="stroke-width:0.03px">300</text>
<text transform="translate(275.50 331.00) rotate(-45) scale(0.8840 1)" font-size="6.0" text-anchor="end" style="stroke-width:0.03px">400</text>
<line x1="242.00" y1="295.80" x2="242.00" y2="318.40" stroke="#a8102f" stroke-width="0.9"/>
<line x1="240.40" y1="295.80" x2="243.60" y2="295.80" stroke="#a8102f" stroke-width="0.9"/>
<line x1="240.40" y1="318.40" x2="243.60" y2="318.40" stroke="#a8102f" stroke-width="0.9"/>
<line x1="249.70" y1="296.60" x2="249.70" y2="319.50" stroke="#a8102f" stroke-width="0.9"/>
<line x1="248.10" y1="296.60" x2="251.30" y2="296.60" stroke="#a8102f" stroke-width="0.9"/>
<line x1="248.10" y1="319.50" x2="251.30" y2="319.50" stroke="#a8102f" stroke-width="0.9"/>
<line x1="272.50" y1="296.60" x2="272.50" y2="319.50" stroke="#a8102f" stroke-width="0.9"/>
<line x1="270.90" y1="296.60" x2="274.10" y2="296.60" stroke="#a8102f" stroke-width="0.9"/>
<line x1="270.90" y1="319.50" x2="274.10" y2="319.50" stroke="#a8102f" stroke-width="0.9"/>
<polyline points="242.00,306.30 249.70,307.60 272.50,308.20" fill="none" stroke="#a8102f" stroke-width="1.2" stroke-linejoin="round"/>
<circle cx="242.00" cy="306.30" r="1.7" fill="#a8102f"/>
<circle cx="249.70" cy="307.60" r="1.7" fill="#a8102f"/>
<circle cx="272.50" cy="308.20" r="1.7" fill="#a8102f"/>
<text transform="translate(259.25 347.00) scale(0.8018 1)" font-size="7.8" text-anchor="middle">Venetoclax [nM]</text>
<text transform="translate(220.50 306.30) rotate(-90) scale(0.7389 1)" font-size="7.4">%DNT</text>
<text transform="translate(224.00 290.00) rotate(-90) scale(0.8282 1)" font-size="5.0">naive</text>
<line x1="321.40" y1="266.20" x2="321.40" y2="311.00" stroke="#1e1e1e" stroke-width="1.2"/>
<line x1="321.40" y1="315.90" x2="321.40" y2="321.60" stroke="#1e1e1e" stroke-width="1.2"/>
<line x1="321.40" y1="311.00" x2="324.40" y2="311.00" stroke="#1e1e1e" stroke-width="1.2"/>
<line x1="321.40" y1="315.90" x2="324.40" y2="315.90" stroke="#1e1e1e" stroke-width="1.2"/>
<line x1="319.20" y1="268.80" x2="321.40" y2="268.80" stroke="#1e1e1e" stroke-width="1.0"/>
<text transform="translate(315.70 271.03)" font-size="6.2" text-anchor="end" fill="#333" style="stroke-width:0">100</text>
<line x1="319.20" y1="277.30" x2="321.40" y2="277.30" stroke="#1e1e1e" stroke-width="1.0"/>
<text transform="translate(315.70 279.53)" font-size="6.2" text-anchor="end" fill="#333" style="stroke-width:0">90</text>
<line x1="319.20" y1="286.00" x2="321.40" y2="286.00" stroke="#1e1e1e" stroke-width="1.0"/>
<text transform="translate(315.70 288.23)" font-size="6.2" text-anchor="end" fill="#333" style="stroke-width:0">80</text>
<line x1="319.20" y1="294.40" x2="321.40" y2="294.40" stroke="#1e1e1e" stroke-width="1.0"/>
<text transform="translate(315.70 296.63)" font-size="6.2" text-anchor="end" fill="#333" style="stroke-width:0">70</text>
<line x1="319.20" y1="302.90" x2="321.40" y2="302.90" stroke="#1e1e1e" stroke-width="1.0"/>
<text transform="translate(315.70 305.13)" font-size="6.2" text-anchor="end" fill="#333" style="stroke-width:0">60</text>
<line x1="319.20" y1="311.00" x2="321.40" y2="311.00" stroke="#1e1e1e" stroke-width="1.0"/>
<text transform="translate(315.70 313.23)" font-size="5.0" text-anchor="end" fill="#333" style="stroke-width:0">50</text>
<line x1="319.20" y1="316.20" x2="321.40" y2="316.20" stroke="#1e1e1e" stroke-width="1.0"/>
<text transform="translate(315.70 318.43)" font-size="5.0" text-anchor="end" fill="#333" style="stroke-width:0">10</text>
<line x1="319.20" y1="321.00" x2="321.40" y2="321.00" stroke="#1e1e1e" stroke-width="1.0"/>
<text transform="translate(315.70 323.23)" font-size="6.2" text-anchor="end" fill="#333" style="stroke-width:0">0</text>
<line x1="320.70" y1="321.00" x2="354.60" y2="321.00" stroke="#1e1e1e" stroke-width="1.4"/>
<line x1="321.40" y1="321.00" x2="321.40" y2="323.20" stroke="#1e1e1e" stroke-width="1.0"/>
<line x1="328.60" y1="321.00" x2="328.60" y2="323.20" stroke="#1e1e1e" stroke-width="1.0"/>
<line x1="336.30" y1="321.00" x2="336.30" y2="323.20" stroke="#1e1e1e" stroke-width="1.0"/>
<line x1="344.10" y1="321.00" x2="344.10" y2="323.20" stroke="#1e1e1e" stroke-width="1.0"/>
<line x1="351.80" y1="321.00" x2="351.80" y2="323.20" stroke="#1e1e1e" stroke-width="1.0"/>
<text transform="translate(324.40 331.00) rotate(-45) scale(0.8840 1)" font-size="6.0" text-anchor="end" style="stroke-width:0.03px">0</text>
<text transform="translate(331.60 331.00) rotate(-45) scale(0.8840 1)" font-size="6.0" text-anchor="end" style="stroke-width:0.03px">100</text>
<text transform="translate(339.30 331.00) rotate(-45) scale(0.8840 1)" font-size="6.0" text-anchor="end" style="stroke-width:0.03px">200</text>
<text transform="translate(347.10 331.00) rotate(-45) scale(0.8840 1)" font-size="6.0" text-anchor="end" style="stroke-width:0.03px">300</text>
<text transform="translate(354.80 331.00) rotate(-45) scale(0.8840 1)" font-size="6.0" text-anchor="end" style="stroke-width:0.03px">400</text>
<line x1="321.40" y1="293.20" x2="321.40" y2="302.50" stroke="#a8102f" stroke-width="0.9"/>
<line x1="319.80" y1="293.20" x2="323.00" y2="293.20" stroke="#a8102f" stroke-width="0.9"/>
<line x1="319.80" y1="302.50" x2="323.00" y2="302.50" stroke="#a8102f" stroke-width="0.9"/>
<line x1="328.60" y1="290.90" x2="328.60" y2="301.70" stroke="#a8102f" stroke-width="0.9"/>
<line x1="327.00" y1="290.90" x2="330.20" y2="290.90" stroke="#a8102f" stroke-width="0.9"/>
<line x1="327.00" y1="301.70" x2="330.20" y2="301.70" stroke="#a8102f" stroke-width="0.9"/>
<line x1="351.80" y1="289.30" x2="351.80" y2="300.90" stroke="#a8102f" stroke-width="0.9"/>
<line x1="350.20" y1="289.30" x2="353.40" y2="289.30" stroke="#a8102f" stroke-width="0.9"/>
<line x1="350.20" y1="300.90" x2="353.40" y2="300.90" stroke="#a8102f" stroke-width="0.9"/>
<polyline points="321.40,297.80 328.60,296.30 351.80,295.00" fill="none" stroke="#a8102f" stroke-width="1.2" stroke-linejoin="round"/>
<circle cx="321.40" cy="297.80" r="1.7" fill="#a8102f"/>
<circle cx="328.60" cy="296.30" r="1.7" fill="#a8102f"/>
<circle cx="351.80" cy="295.00" r="1.7" fill="#a8102f"/>
<text transform="translate(338.60 347.00) scale(0.8072 1)" font-size="7.8" text-anchor="middle">Venetoclax [nM]</text>
<text transform="translate(296.80 305.30) rotate(-90) scale(0.7465 1)" font-size="7.4">% DNT</text>
<text transform="translate(300.60 287.30) rotate(-90) scale(0.8000 1)" font-size="5.0">EM</text>
<line x1="397.50" y1="268.50" x2="397.50" y2="321.40" stroke="#1e1e1e" stroke-width="1.4"/>
<line x1="395.30" y1="272.40" x2="397.50" y2="272.40" stroke="#1e1e1e" stroke-width="1.0"/>
<text transform="translate(391.80 274.63)" font-size="6.2" text-anchor="end" fill="#333" style="stroke-width:0">30</text>
<line x1="395.30" y1="288.30" x2="397.50" y2="288.30" stroke="#1e1e1e" stroke-width="1.0"/>
<text transform="translate(391.80 290.53)" font-size="6.2" text-anchor="end" fill="#333" style="stroke-width:0">20</text>
<line x1="395.30" y1="304.30" x2="397.50" y2="304.30" stroke="#1e1e1e" stroke-width="1.0"/>
<text transform="translate(391.80 306.53)" font-size="6.2" text-anchor="end" fill="#333" style="stroke-width:0">10</text>
<line x1="395.30" y1="320.70" x2="397.50" y2="320.70" stroke="#1e1e1e" stroke-width="1.0"/>
<text transform="translate(391.80 322.93)" font-size="6.2" text-anchor="end" fill="#333" style="stroke-width:0">0</text>
<line x1="396.80" y1="320.70" x2="431.00" y2="320.70" stroke="#1e1e1e" stroke-width="1.4"/>
<line x1="397.50" y1="320.70" x2="397.50" y2="322.90" stroke="#1e1e1e" stroke-width="1.0"/>
<line x1="405.20" y1="320.70" x2="405.20" y2="322.90" stroke="#1e1e1e" stroke-width="1.0"/>
<line x1="412.80" y1="320.70" x2="412.80" y2="322.90" stroke="#1e1e1e" stroke-width="1.0"/>
<line x1="420.50" y1="320.70" x2="420.50" y2="322.90" stroke="#1e1e1e" stroke-width="1.0"/>
<line x1="428.20" y1="320.70" x2="428.20" y2="322.90" stroke="#1e1e1e" stroke-width="1.0"/>
<text transform="translate(400.50 330.70) rotate(-45) scale(0.8840 1)" font-size="6.0" text-anchor="end" style="stroke-width:0.03px">0</text>
<text transform="translate(408.20 330.70) rotate(-45) scale(0.8840 1)" font-size="6.0" text-anchor="end" style="stroke-width:0.03px">100</text>
<text transform="translate(415.80 330.70) rotate(-45) scale(0.8840 1)" font-size="6.0" text-anchor="end" style="stroke-width:0.03px">200</text>
<text transform="translate(423.50 330.70) rotate(-45) scale(0.8840 1)" font-size="6.0" text-anchor="end" style="stroke-width:0.03px">300</text>
<text transform="translate(431.20 330.70) rotate(-45) scale(0.8840 1)" font-size="6.0" text-anchor="end" style="stroke-width:0.03px">400</text>
<line x1="397.50" y1="272.40" x2="397.50" y2="277.00" stroke="#a8102f" stroke-width="0.9"/>
<line x1="395.90" y1="272.40" x2="399.10" y2="272.40" stroke="#a8102f" stroke-width="0.9"/>
<line x1="395.90" y1="277.00" x2="399.10" y2="277.00" stroke="#a8102f" stroke-width="0.9"/>
<line x1="405.20" y1="273.60" x2="405.20" y2="281.20" stroke="#a8102f" stroke-width="0.9"/>
<line x1="403.60" y1="273.60" x2="406.80" y2="273.60" stroke="#a8102f" stroke-width="0.9"/>
<line x1="403.60" y1="281.20" x2="406.80" y2="281.20" stroke="#a8102f" stroke-width="0.9"/>
<line x1="428.20" y1="275.40" x2="428.20" y2="283.60" stroke="#a8102f" stroke-width="0.9"/>
<line x1="426.60" y1="275.40" x2="429.80" y2="275.40" stroke="#a8102f" stroke-width="0.9"/>
<line x1="426.60" y1="283.60" x2="429.80" y2="283.60" stroke="#a8102f" stroke-width="0.9"/>
<polyline points="397.50,274.70 405.20,276.70 428.20,279.60" fill="none" stroke="#a8102f" stroke-width="1.2" stroke-linejoin="round"/>
<circle cx="397.50" cy="274.70" r="1.7" fill="#a8102f"/>
<circle cx="405.20" cy="276.70" r="1.7" fill="#a8102f"/>
<circle cx="428.20" cy="279.60" r="1.7" fill="#a8102f"/>
<text transform="translate(414.85 347.00) scale(0.8018 1)" font-size="7.8" text-anchor="middle">Venetoclax [nM]</text>
<text transform="translate(375.70 309.20) rotate(-90) scale(0.7114 1)" font-size="7.4">%DNT</text>
<text transform="translate(379.30 293.50) rotate(-90) scale(0.8460 1)" font-size="5.0">Effector</text>
<line x1="473.50" y1="266.60" x2="473.50" y2="321.70" stroke="#1e1e1e" stroke-width="1.4"/>
<line x1="471.30" y1="268.80" x2="473.50" y2="268.80" stroke="#1e1e1e" stroke-width="1.0"/>
<text transform="translate(467.80 271.03)" font-size="6.2" text-anchor="end" fill="#333" style="stroke-width:0">15</text>
<line x1="471.30" y1="286.30" x2="473.50" y2="286.30" stroke="#1e1e1e" stroke-width="1.0"/>
<text transform="translate(467.80 288.53)" font-size="6.2" text-anchor="end" fill="#333" style="stroke-width:0">10</text>
<line x1="471.30" y1="303.70" x2="473.50" y2="303.70" stroke="#1e1e1e" stroke-width="1.0"/>
<text transform="translate(467.80 305.93)" font-size="6.2" text-anchor="end" fill="#333" style="stroke-width:0">5</text>
<line x1="471.30" y1="321.00" x2="473.50" y2="321.00" stroke="#1e1e1e" stroke-width="1.0"/>
<text transform="translate(467.80 323.23)" font-size="6.2" text-anchor="end" fill="#333" style="stroke-width:0">0</text>
<line x1="472.80" y1="321.00" x2="507.20" y2="321.00" stroke="#1e1e1e" stroke-width="1.4"/>
<line x1="473.50" y1="321.00" x2="473.50" y2="323.20" stroke="#1e1e1e" stroke-width="1.0"/>
<line x1="481.40" y1="321.00" x2="481.40" y2="323.20" stroke="#1e1e1e" stroke-width="1.0"/>
<line x1="489.00" y1="321.00" x2="489.00" y2="323.20" stroke="#1e1e1e" stroke-width="1.0"/>
<line x1="496.70" y1="321.00" x2="496.70" y2="323.20" stroke="#1e1e1e" stroke-width="1.0"/>
<line x1="504.40" y1="321.00" x2="504.40" y2="323.20" stroke="#1e1e1e" stroke-width="1.0"/>
<text transform="translate(476.50 331.00) rotate(-45) scale(0.8840 1)" font-size="6.0" text-anchor="end" style="stroke-width:0.03px">0</text>
<text transform="translate(484.40 331.00) rotate(-45) scale(0.8840 1)" font-size="6.0" text-anchor="end" style="stroke-width:0.03px">100</text>
<text transform="translate(492.00 331.00) rotate(-45) scale(0.8840 1)" font-size="6.0" text-anchor="end" style="stroke-width:0.03px">200</text>
<text transform="translate(499.70 331.00) rotate(-45) scale(0.8840 1)" font-size="6.0" text-anchor="end" style="stroke-width:0.03px">300</text>
<text transform="translate(507.40 331.00) rotate(-45) scale(0.8840 1)" font-size="6.0" text-anchor="end" style="stroke-width:0.03px">400</text>
<line x1="473.50" y1="310.20" x2="473.50" y2="319.50" stroke="#a8102f" stroke-width="0.9"/>
<line x1="471.90" y1="310.20" x2="475.10" y2="310.20" stroke="#a8102f" stroke-width="0.9"/>
<line x1="471.90" y1="319.50" x2="475.10" y2="319.50" stroke="#a8102f" stroke-width="0.9"/>
<line x1="481.40" y1="310.70" x2="481.40" y2="318.40" stroke="#a8102f" stroke-width="0.9"/>
<line x1="479.80" y1="310.70" x2="483.00" y2="310.70" stroke="#a8102f" stroke-width="0.9"/>
<line x1="479.80" y1="318.40" x2="483.00" y2="318.40" stroke="#a8102f" stroke-width="0.9"/>
<line x1="504.40" y1="309.40" x2="504.40" y2="319.00" stroke="#a8102f" stroke-width="0.9"/>
<line x1="502.80" y1="309.40" x2="506.00" y2="309.40" stroke="#a8102f" stroke-width="0.9"/>
<line x1="502.80" y1="319.00" x2="506.00" y2="319.00" stroke="#a8102f" stroke-width="0.9"/>
<polyline points="473.50,314.80 481.40,314.80 504.40,314.10" fill="none" stroke="#a8102f" stroke-width="1.2" stroke-linejoin="round"/>
<circle cx="473.50" cy="314.80" r="1.7" fill="#a8102f"/>
<circle cx="481.40" cy="314.80" r="1.7" fill="#a8102f"/>
<circle cx="504.40" cy="314.10" r="1.7" fill="#a8102f"/>
<text transform="translate(490.95 347.00) scale(0.8018 1)" font-size="7.8" text-anchor="middle">Venetoclax [nM]</text>
<text transform="translate(452.20 304.50) rotate(-90) scale(0.7297 1)" font-size="7.4">%DNT</text>
<text transform="translate(455.50 288.40) rotate(-90) scale(0.8359 1)" font-size="5.0">CM</text>
<line x1="241.80" y1="359.30" x2="241.80" y2="414.50" stroke="#1e1e1e" stroke-width="1.4"/>
<line x1="239.60" y1="361.30" x2="241.80" y2="361.30" stroke="#1e1e1e" stroke-width="1.0"/>
<text transform="translate(236.10 363.53)" font-size="6.2" text-anchor="end" fill="#333" style="stroke-width:0">25</text>
<line x1="239.60" y1="371.90" x2="241.80" y2="371.90" stroke="#1e1e1e" stroke-width="1.0"/>
<text transform="translate(236.10 374.13)" font-size="6.2" text-anchor="end" fill="#333" style="stroke-width:0">20</text>
<line x1="239.60" y1="382.50" x2="241.80" y2="382.50" stroke="#1e1e1e" stroke-width="1.0"/>
<text transform="translate(236.10 384.73)" font-size="6.2" text-anchor="end" fill="#333" style="stroke-width:0">15</text>
<line x1="239.60" y1="392.70" x2="241.80" y2="392.70" stroke="#1e1e1e" stroke-width="1.0"/>
<text transform="translate(236.10 394.93)" font-size="6.2" text-anchor="end" fill="#333" style="stroke-width:0">10</text>
<line x1="239.60" y1="403.20" x2="241.80" y2="403.20" stroke="#1e1e1e" stroke-width="1.0"/>
<text transform="translate(236.10 405.43)" font-size="6.2" text-anchor="end" fill="#333" style="stroke-width:0">5</text>
<line x1="239.60" y1="413.80" x2="241.80" y2="413.80" stroke="#1e1e1e" stroke-width="1.0"/>
<text transform="translate(236.10 416.03)" font-size="6.2" text-anchor="end" fill="#333" style="stroke-width:0">0</text>
<line x1="241.10" y1="413.80" x2="275.20" y2="413.80" stroke="#1e1e1e" stroke-width="1.4"/>
<line x1="241.80" y1="413.80" x2="241.80" y2="416.00" stroke="#1e1e1e" stroke-width="1.0"/>
<line x1="249.60" y1="413.80" x2="249.60" y2="416.00" stroke="#1e1e1e" stroke-width="1.0"/>
<line x1="257.30" y1="413.80" x2="257.30" y2="416.00" stroke="#1e1e1e" stroke-width="1.0"/>
<line x1="264.90" y1="413.80" x2="264.90" y2="416.00" stroke="#1e1e1e" stroke-width="1.0"/>
<line x1="272.40" y1="413.80" x2="272.40" y2="416.00" stroke="#1e1e1e" stroke-width="1.0"/>
<text transform="translate(244.80 423.80) rotate(-45) scale(0.8840 1)" font-size="6.0" text-anchor="end" style="stroke-width:0.03px">0</text>
<text transform="translate(252.60 423.80) rotate(-45) scale(0.8840 1)" font-size="6.0" text-anchor="end" style="stroke-width:0.03px">100</text>
<text transform="translate(260.30 423.80) rotate(-45) scale(0.8840 1)" font-size="6.0" text-anchor="end" style="stroke-width:0.03px">200</text>
<text transform="translate(267.90 423.80) rotate(-45) scale(0.8840 1)" font-size="6.0" text-anchor="end" style="stroke-width:0.03px">300</text>
<text transform="translate(275.40 423.80) rotate(-45) scale(0.8840 1)" font-size="6.0" text-anchor="end" style="stroke-width:0.03px">400</text>
<line x1="241.80" y1="370.70" x2="241.80" y2="392.60" stroke="#a8102f" stroke-width="0.9"/>
<line x1="240.20" y1="370.70" x2="243.40" y2="370.70" stroke="#a8102f" stroke-width="0.9"/>
<line x1="240.20" y1="392.60" x2="243.40" y2="392.60" stroke="#a8102f" stroke-width="0.9"/>
<line x1="249.60" y1="373.50" x2="249.60" y2="394.70" stroke="#a8102f" stroke-width="0.9"/>
<line x1="248.00" y1="373.50" x2="251.20" y2="373.50" stroke="#a8102f" stroke-width="0.9"/>
<line x1="248.00" y1="394.70" x2="251.20" y2="394.70" stroke="#a8102f" stroke-width="0.9"/>
<line x1="272.40" y1="371.60" x2="272.40" y2="396.30" stroke="#a8102f" stroke-width="0.9"/>
<line x1="270.80" y1="371.60" x2="274.00" y2="371.60" stroke="#a8102f" stroke-width="0.9"/>
<line x1="270.80" y1="396.30" x2="274.00" y2="396.30" stroke="#a8102f" stroke-width="0.9"/>
<polyline points="241.80,381.20 249.60,383.80 272.40,383.80" fill="none" stroke="#a8102f" stroke-width="1.2" stroke-linejoin="round"/>
<circle cx="241.80" cy="381.20" r="1.7" fill="#a8102f"/>
<circle cx="249.60" cy="383.80" r="1.7" fill="#a8102f"/>
<circle cx="272.40" cy="383.80" r="1.7" fill="#a8102f"/>
<text transform="translate(259.10 439.10) scale(0.8018 1)" font-size="7.8" text-anchor="middle">Venetoclax [nM]</text>
<text transform="translate(221.00 402.00) rotate(-90) scale(0.7581 1)" font-size="7.4">% Tconv</text>
<text transform="translate(223.80 380.50) rotate(-90) scale(0.8533 1)" font-size="5.0">naive</text>
<line x1="318.40" y1="358.80" x2="318.40" y2="414.50" stroke="#1e1e1e" stroke-width="1.4"/>
<line x1="316.20" y1="361.60" x2="318.40" y2="361.60" stroke="#1e1e1e" stroke-width="1.0"/>
<text transform="translate(312.70 363.83)" font-size="6.2" text-anchor="end" fill="#333" style="stroke-width:0">60</text>
<line x1="316.20" y1="378.90" x2="318.40" y2="378.90" stroke="#1e1e1e" stroke-width="1.0"/>
<text transform="translate(312.70 381.13)" font-size="6.2" text-anchor="end" fill="#333" style="stroke-width:0">40</text>
<line x1="316.20" y1="396.30" x2="318.40" y2="396.30" stroke="#1e1e1e" stroke-width="1.0"/>
<text transform="translate(312.70 398.53)" font-size="6.2" text-anchor="end" fill="#333" style="stroke-width:0">20</text>
<line x1="316.20" y1="413.80" x2="318.40" y2="413.80" stroke="#1e1e1e" stroke-width="1.0"/>
<text transform="translate(312.70 416.03)" font-size="6.2" text-anchor="end" fill="#333" style="stroke-width:0">0</text>
<line x1="317.70" y1="413.80" x2="351.80" y2="413.80" stroke="#1e1e1e" stroke-width="1.4"/>
<line x1="318.40" y1="413.80" x2="318.40" y2="416.00" stroke="#1e1e1e" stroke-width="1.0"/>
<line x1="325.70" y1="413.80" x2="325.70" y2="416.00" stroke="#1e1e1e" stroke-width="1.0"/>
<line x1="333.60" y1="413.80" x2="333.60" y2="416.00" stroke="#1e1e1e" stroke-width="1.0"/>
<line x1="341.20" y1="413.80" x2="341.20" y2="416.00" stroke="#1e1e1e" stroke-width="1.0"/>
<line x1="349.00" y1="413.80" x2="349.00" y2="416.00" stroke="#1e1e1e" stroke-width="1.0"/>
<text transform="translate(321.40 423.80) rotate(-45) scale(0.8840 1)" font-size="6.0" text-anchor="end" style="stroke-width:0.03px">0</text>
<text transform="translate(328.70 423.80) rotate(-45) scale(0.8840 1)" font-size="6.0" text-anchor="end" style="stroke-width:0.03px">100</text>
<text transform="translate(336.60 423.80) rotate(-45) scale(0.8840 1)" font-size="6.0" text-anchor="end" style="stroke-width:0.03px">200</text>
<text transform="translate(344.20 423.80) rotate(-45) scale(0.8840 1)" font-size="6.0" text-anchor="end" style="stroke-width:0.03px">300</text>
<text transform="translate(352.00 423.80) rotate(-45) scale(0.8840 1)" font-size="6.0" text-anchor="end" style="stroke-width:0.03px">400</text>
<line x1="318.40" y1="371.40" x2="318.40" y2="387.40" stroke="#a8102f" stroke-width="0.9"/>
<line x1="316.80" y1="371.40" x2="320.00" y2="371.40" stroke="#a8102f" stroke-width="0.9"/>
<line x1="316.80" y1="387.40" x2="320.00" y2="387.40" stroke="#a8102f" stroke-width="0.9"/>
<line x1="325.70" y1="370.70" x2="325.70" y2="385.40" stroke="#a8102f" stroke-width="0.9"/>
<line x1="324.10" y1="370.70" x2="327.30" y2="370.70" stroke="#a8102f" stroke-width="0.9"/>
<line x1="324.10" y1="385.40" x2="327.30" y2="385.40" stroke="#a8102f" stroke-width="0.9"/>
<line x1="349.00" y1="368.60" x2="349.00" y2="385.40" stroke="#a8102f" stroke-width="0.9"/>
<line x1="347.40" y1="368.60" x2="350.60" y2="368.60" stroke="#a8102f" stroke-width="0.9"/>
<line x1="347.40" y1="385.40" x2="350.60" y2="385.40" stroke="#a8102f" stroke-width="0.9"/>
<polyline points="318.40,379.20 325.70,377.90 349.00,377.10" fill="none" stroke="#a8102f" stroke-width="1.2" stroke-linejoin="round"/>
<circle cx="318.40" cy="379.20" r="1.7" fill="#a8102f"/>
<circle cx="325.70" cy="377.90" r="1.7" fill="#a8102f"/>
<circle cx="349.00" cy="377.10" r="1.7" fill="#a8102f"/>
<text transform="translate(335.70 439.10) scale(0.8018 1)" font-size="7.8" text-anchor="middle">Venetoclax [nM]</text>
<text transform="translate(297.00 399.70) rotate(-90) scale(0.7725 1)" font-size="7.4">% Tconv</text>
<text transform="translate(300.20 378.40) rotate(-90) scale(0.7733 1)" font-size="5.0">EM</text>
<line x1="394.20" y1="361.60" x2="394.20" y2="414.50" stroke="#1e1e1e" stroke-width="1.4"/>
<line x1="392.00" y1="364.90" x2="394.20" y2="364.90" stroke="#1e1e1e" stroke-width="1.0"/>
<text transform="translate(388.50 367.13)" font-size="6.2" text-anchor="end" fill="#333" style="stroke-width:0">30</text>
<line x1="392.00" y1="381.20" x2="394.20" y2="381.20" stroke="#1e1e1e" stroke-width="1.0"/>
<text transform="translate(388.50 383.43)" font-size="6.2" text-anchor="end" fill="#333" style="stroke-width:0">20</text>
<line x1="392.00" y1="397.50" x2="394.20" y2="397.50" stroke="#1e1e1e" stroke-width="1.0"/>
<text transform="translate(388.50 399.73)" font-size="6.2" text-anchor="end" fill="#333" style="stroke-width:0">10</text>
<line x1="392.00" y1="413.80" x2="394.20" y2="413.80" stroke="#1e1e1e" stroke-width="1.0"/>
<text transform="translate(388.50 416.03)" font-size="6.2" text-anchor="end" fill="#333" style="stroke-width:0">0</text>
<line x1="393.50" y1="413.80" x2="428.10" y2="413.80" stroke="#1e1e1e" stroke-width="1.4"/>
<line x1="394.20" y1="413.80" x2="394.20" y2="416.00" stroke="#1e1e1e" stroke-width="1.0"/>
<line x1="402.00" y1="413.80" x2="402.00" y2="416.00" stroke="#1e1e1e" stroke-width="1.0"/>
<line x1="409.70" y1="413.80" x2="409.70" y2="416.00" stroke="#1e1e1e" stroke-width="1.0"/>
<line x1="417.40" y1="413.80" x2="417.40" y2="416.00" stroke="#1e1e1e" stroke-width="1.0"/>
<line x1="425.20" y1="413.80" x2="425.20" y2="416.00" stroke="#1e1e1e" stroke-width="1.0"/>
<text transform="translate(397.20 423.80) rotate(-45) scale(0.8840 1)" font-size="6.0" text-anchor="end" style="stroke-width:0.03px">0</text>
<text transform="translate(405.00 423.80) rotate(-45) scale(0.8840 1)" font-size="6.0" text-anchor="end" style="stroke-width:0.03px">100</text>
<text transform="translate(412.70 423.80) rotate(-45) scale(0.8840 1)" font-size="6.0" text-anchor="end" style="stroke-width:0.03px">200</text>
<text transform="translate(420.40 423.80) rotate(-45) scale(0.8840 1)" font-size="6.0" text-anchor="end" style="stroke-width:0.03px">300</text>
<text transform="translate(428.20 423.80) rotate(-45) scale(0.8840 1)" font-size="6.0" text-anchor="end" style="stroke-width:0.03px">400</text>
<line x1="394.20" y1="379.70" x2="394.20" y2="384.90" stroke="#a8102f" stroke-width="0.9"/>
<line x1="392.60" y1="379.70" x2="395.80" y2="379.70" stroke="#a8102f" stroke-width="0.9"/>
<line x1="392.60" y1="384.90" x2="395.80" y2="384.90" stroke="#a8102f" stroke-width="0.9"/>
<line x1="425.20" y1="380.50" x2="425.20" y2="387.40" stroke="#a8102f" stroke-width="0.9"/>
<line x1="423.60" y1="380.50" x2="426.80" y2="380.50" stroke="#a8102f" stroke-width="0.9"/>
<line x1="423.60" y1="387.40" x2="426.80" y2="387.40" stroke="#a8102f" stroke-width="0.9"/>
<polyline points="394.20,382.10 402.00,384.10 425.20,383.80" fill="none" stroke="#a8102f" stroke-width="1.2" stroke-linejoin="round"/>
<circle cx="394.20" cy="382.10" r="1.7" fill="#a8102f"/>
<circle cx="402.00" cy="384.10" r="1.7" fill="#a8102f"/>
<circle cx="425.20" cy="383.80" r="1.7" fill="#a8102f"/>
<text transform="translate(411.70 439.10) scale(0.8018 1)" font-size="7.8" text-anchor="middle">Venetoclax [nM]</text>
<text transform="translate(373.50 405.60) rotate(-90) scale(0.7832 1)" font-size="7.4">% Tconv</text>
<text transform="translate(376.80 383.60) rotate(-90) scale(0.8052 1)" font-size="5.0">Effector</text>
<line x1="470.60" y1="359.30" x2="470.60" y2="414.50" stroke="#1e1e1e" stroke-width="1.4"/>
<line x1="468.40" y1="361.60" x2="470.60" y2="361.60" stroke="#1e1e1e" stroke-width="1.0"/>
<text transform="translate(464.90 363.83)" font-size="6.2" text-anchor="end" fill="#333" style="stroke-width:0">30</text>
<line x1="468.40" y1="379.20" x2="470.60" y2="379.20" stroke="#1e1e1e" stroke-width="1.0"/>
<text transform="translate(464.90 381.43)" font-size="6.2" text-anchor="end" fill="#333" style="stroke-width:0">20</text>
<line x1="468.40" y1="396.30" x2="470.60" y2="396.30" stroke="#1e1e1e" stroke-width="1.0"/>
<text transform="translate(464.90 398.53)" font-size="6.2" text-anchor="end" fill="#333" style="stroke-width:0">10</text>
<line x1="468.40" y1="413.80" x2="470.60" y2="413.80" stroke="#1e1e1e" stroke-width="1.0"/>
<text transform="translate(464.90 416.03)" font-size="6.2" text-anchor="end" fill="#333" style="stroke-width:0">0</text>
<line x1="469.90" y1="413.80" x2="504.00" y2="413.80" stroke="#1e1e1e" stroke-width="1.4"/>
<line x1="470.60" y1="413.80" x2="470.60" y2="416.00" stroke="#1e1e1e" stroke-width="1.0"/>
<line x1="478.30" y1="413.80" x2="478.30" y2="416.00" stroke="#1e1e1e" stroke-width="1.0"/>
<line x1="485.90" y1="413.80" x2="485.90" y2="416.00" stroke="#1e1e1e" stroke-width="1.0"/>
<line x1="493.80" y1="413.80" x2="493.80" y2="416.00" stroke="#1e1e1e" stroke-width="1.0"/>
<line x1="501.40" y1="413.80" x2="501.40" y2="416.00" stroke="#1e1e1e" stroke-width="1.0"/>
<text transform="translate(473.60 423.80) rotate(-45) scale(0.8840 1)" font-size="6.0" text-anchor="end" style="stroke-width:0.03px">0</text>
<text transform="translate(481.30 423.80) rotate(-45) scale(0.8840 1)" font-size="6.0" text-anchor="end" style="stroke-width:0.03px">100</text>
<text transform="translate(488.90 423.80) rotate(-45) scale(0.8840 1)" font-size="6.0" text-anchor="end" style="stroke-width:0.03px">200</text>
<text transform="translate(496.80 423.80) rotate(-45) scale(0.8840 1)" font-size="6.0" text-anchor="end" style="stroke-width:0.03px">300</text>
<text transform="translate(504.40 423.80) rotate(-45) scale(0.8840 1)" font-size="6.0" text-anchor="end" style="stroke-width:0.03px">400</text>
<line x1="470.60" y1="367.00" x2="470.60" y2="372.70" stroke="#a8102f" stroke-width="0.9"/>
<line x1="469.00" y1="367.00" x2="472.20" y2="367.00" stroke="#a8102f" stroke-width="0.9"/>
<line x1="469.00" y1="372.70" x2="472.20" y2="372.70" stroke="#a8102f" stroke-width="0.9"/>
<line x1="478.30" y1="365.90" x2="478.30" y2="373.50" stroke="#a8102f" stroke-width="0.9"/>
<line x1="476.70" y1="365.90" x2="479.90" y2="365.90" stroke="#a8102f" stroke-width="0.9"/>
<line x1="476.70" y1="373.50" x2="479.90" y2="373.50" stroke="#a8102f" stroke-width="0.9"/>
<line x1="501.40" y1="366.50" x2="501.40" y2="373.20" stroke="#a8102f" stroke-width="0.9"/>
<line x1="499.80" y1="366.50" x2="503.00" y2="366.50" stroke="#a8102f" stroke-width="0.9"/>
<line x1="499.80" y1="373.20" x2="503.00" y2="373.20" stroke="#a8102f" stroke-width="0.9"/>
<polyline points="470.60,369.40 478.30,369.40 501.40,369.90" fill="none" stroke="#a8102f" stroke-width="1.2" stroke-linejoin="round"/>
<circle cx="470.60" cy="369.40" r="1.7" fill="#a8102f"/>
<circle cx="478.30" cy="369.40" r="1.7" fill="#a8102f"/>
<circle cx="501.40" cy="369.90" r="1.7" fill="#a8102f"/>
<text transform="translate(488.00 439.10) scale(0.8018 1)" font-size="7.8" text-anchor="middle">Venetoclax [nM]</text>
<text transform="translate(449.40 400.10) rotate(-90) scale(0.7581 1)" font-size="7.4">% Tconv</text>
<text transform="translate(453.20 378.80) rotate(-90) scale(0.7973 1)" font-size="5.0">CM</text>
<defs>
<radialGradient id="gD" cx="0.5" cy="0.5" r="0.5">
<stop offset="0" stop-color="#3c3c3c"/>
<stop offset="0.55" stop-color="#4a4a4a"/>
<stop offset="0.8" stop-color="#7a7a7a"/>
<stop offset="1" stop-color="#c8c8c8"/>
</radialGradient>
<linearGradient id="gCol" x1="0" y1="0" x2="0" y2="1">
<stop offset="0" stop-color="#a8a8a8"/>
<stop offset="1" stop-color="#b8b8b8"/>
</linearGradient>
</defs>
<ellipse cx="82.60" cy="319.30" rx="19.4" ry="6.0" fill="none" stroke="#b5b5b5" stroke-width="0.5"/>
<ellipse cx="82.60" cy="319.30" rx="17.6" ry="5.3" fill="none" stroke="#9a9a9a" stroke-width="0.5"/>
<ellipse cx="82.60" cy="319.30" rx="15.6" ry="4.8" fill="none" stroke="#888" stroke-width="0.5"/>
<ellipse cx="82.90" cy="319.60" rx="15.0" ry="4.7" fill="url(#gD)" opacity="0.95"/>
<ellipse cx="82.90" cy="319.60" rx="13.0" ry="4.0" fill="none" stroke="#222" stroke-width="0.4" opacity="0.6"/>
<ellipse cx="82.90" cy="319.60" rx="10.5" ry="3.2" fill="none" stroke="#222" stroke-width="0.4" opacity="0.6"/>
<ellipse cx="82.90" cy="319.60" rx="8.0" ry="2.4" fill="none" stroke="#222" stroke-width="0.4" opacity="0.6"/>
<path d="M71.60,319.60 Q80.60,318.70 87.60,319.50" stroke="#fff" stroke-width="0.6" fill="none" opacity="0.7"/>
<rect x="49.90" y="276.20" width="61.90" height="62.10" fill="none" stroke="#8c8c8c" stroke-width="0.7"/>
<line x1="49.90" y1="275.90" x2="49.90" y2="338.80" stroke="#222" stroke-width="0.9"/>
<line x1="49.40" y1="338.30" x2="112.10" y2="338.30" stroke="#222" stroke-width="0.9"/>
<line x1="48.10" y1="277.40" x2="49.90" y2="277.40" stroke="#222" stroke-width="0.7"/>
<line x1="48.10" y1="290.00" x2="49.90" y2="290.00" stroke="#222" stroke-width="0.7"/>
<line x1="48.10" y1="304.50" x2="49.90" y2="304.50" stroke="#222" stroke-width="0.7"/>
<line x1="48.10" y1="319.50" x2="49.90" y2="319.50" stroke="#222" stroke-width="0.7"/>
<line x1="48.10" y1="334.50" x2="49.90" y2="334.50" stroke="#222" stroke-width="0.7"/>
<line x1="49.00" y1="279.92" x2="49.90" y2="279.92" stroke="#444" stroke-width="0.5"/>
<line x1="49.00" y1="282.44" x2="49.90" y2="282.44" stroke="#444" stroke-width="0.5"/>
<line x1="49.00" y1="284.96" x2="49.90" y2="284.96" stroke="#444" stroke-width="0.5"/>
<line x1="49.00" y1="287.48" x2="49.90" y2="287.48" stroke="#444" stroke-width="0.5"/>
<line x1="49.00" y1="292.90" x2="49.90" y2="292.90" stroke="#444" stroke-width="0.5"/>
<line x1="49.00" y1="295.80" x2="49.90" y2="295.80" stroke="#444" stroke-width="0.5"/>
<line x1="49.00" y1="298.70" x2="49.90" y2="298.70" stroke="#444" stroke-width="0.5"/>
<line x1="49.00" y1="301.60" x2="49.90" y2="301.60" stroke="#444" stroke-width="0.5"/>
<line x1="49.00" y1="307.50" x2="49.90" y2="307.50" stroke="#444" stroke-width="0.5"/>
<line x1="49.00" y1="310.50" x2="49.90" y2="310.50" stroke="#444" stroke-width="0.5"/>
<line x1="49.00" y1="313.50" x2="49.90" y2="313.50" stroke="#444" stroke-width="0.5"/>
<line x1="49.00" y1="316.50" x2="49.90" y2="316.50" stroke="#444" stroke-width="0.5"/>
<line x1="49.00" y1="322.50" x2="49.90" y2="322.50" stroke="#444" stroke-width="0.5"/>
<line x1="49.00" y1="325.50" x2="49.90" y2="325.50" stroke="#444" stroke-width="0.5"/>
<line x1="49.00" y1="328.50" x2="49.90" y2="328.50" stroke="#444" stroke-width="0.5"/>
<line x1="49.00" y1="331.50" x2="49.90" y2="331.50" stroke="#444" stroke-width="0.5"/>
<line x1="53.10" y1="338.30" x2="53.10" y2="340.10" stroke="#222" stroke-width="0.7"/>
<line x1="68.50" y1="338.30" x2="68.50" y2="340.10" stroke="#222" stroke-width="0.7"/>
<line x1="79.50" y1="338.30" x2="79.50" y2="340.10" stroke="#222" stroke-width="0.7"/>
<line x1="95.10" y1="338.30" x2="95.10" y2="340.10" stroke="#222" stroke-width="0.7"/>
<line x1="109.90" y1="338.30" x2="109.90" y2="340.10" stroke="#222" stroke-width="0.7"/>
<line x1="56.18" y1="338.30" x2="56.18" y2="339.20" stroke="#444" stroke-width="0.5"/>
<line x1="59.26" y1="338.30" x2="59.26" y2="339.20" stroke="#444" stroke-width="0.5"/>
<line x1="62.34" y1="338.30" x2="62.34" y2="339.20" stroke="#444" stroke-width="0.5"/>
<line x1="65.42" y1="338.30" x2="65.42" y2="339.20" stroke="#444" stroke-width="0.5"/>
<line x1="70.70" y1="338.30" x2="70.70" y2="339.20" stroke="#444" stroke-width="0.5"/>
<line x1="72.90" y1="338.30" x2="72.90" y2="339.20" stroke="#444" stroke-width="0.5"/>
<line x1="75.10" y1="338.30" x2="75.10" y2="339.20" stroke="#444" stroke-width="0.5"/>
<line x1="77.30" y1="338.30" x2="77.30" y2="339.20" stroke="#444" stroke-width="0.5"/>
<line x1="82.62" y1="338.30" x2="82.62" y2="339.20" stroke="#444" stroke-width="0.5"/>
<line x1="85.74" y1="338.30" x2="85.74" y2="339.20" stroke="#444" stroke-width="0.5"/>
<line x1="88.86" y1="338.30" x2="88.86" y2="339.20" stroke="#444" stroke-width="0.5"/>
<line x1="91.98" y1="338.30" x2="91.98" y2="339.20" stroke="#444" stroke-width="0.5"/>
<line x1="98.06" y1="338.30" x2="98.06" y2="339.20" stroke="#444" stroke-width="0.5"/>
<line x1="101.02" y1="338.30" x2="101.02" y2="339.20" stroke="#444" stroke-width="0.5"/>
<line x1="103.98" y1="338.30" x2="103.98" y2="339.20" stroke="#444" stroke-width="0.5"/>
<line x1="106.94" y1="338.30" x2="106.94" y2="339.20" stroke="#444" stroke-width="0.5"/>
<text transform="translate(43.30 279.34) scale(0.8824 1)" font-size="5.4" text-anchor="end" style="stroke-width:0.08px">10</text>
<text transform="translate(43.60 276.74)" font-size="3.0" style="stroke-width:0.08px">5</text>
<text transform="translate(43.30 291.94) scale(0.8824 1)" font-size="5.4" text-anchor="end" style="stroke-width:0.08px">10</text>
<text transform="translate(43.60 289.34)" font-size="3.0" style="stroke-width:0.08px">4</text>
<text transform="translate(43.30 306.44) scale(0.8824 1)" font-size="5.4" text-anchor="end" style="stroke-width:0.08px">10</text>
<text transform="translate(43.60 303.84)" font-size="3.0" style="stroke-width:0.08px">3</text>
<text transform="translate(44.50 321.44)" font-size="5.4" text-anchor="end" style="stroke-width:0.08px">0</text>
<text transform="translate(43.30 336.44) scale(0.9481 1)" font-size="5.4" text-anchor="end" style="stroke-width:0.08px">-10</text>
<text transform="translate(43.60 333.84)" font-size="3.0" style="stroke-width:0.08px">3</text>
<text transform="translate(53.40 346.80) scale(0.9481 1)" font-size="5.4" text-anchor="middle" style="stroke-width:0.08px">-10</text>
<text transform="translate(57.30 344.20)" font-size="3.0" style="stroke-width:0.08px">3</text>
<text transform="translate(68.50 346.80)" font-size="5.4" text-anchor="middle" style="stroke-width:0.08px">0</text>
<text transform="translate(79.80 346.80) scale(0.8824 1)" font-size="5.4" text-anchor="middle" style="stroke-width:0.08px">10</text>
<text transform="translate(82.65 344.20)" font-size="3.0" style="stroke-width:0.08px">3</text>
<text transform="translate(95.40 346.80) scale(0.8824 1)" font-size="5.4" text-anchor="middle" style="stroke-width:0.08px">10</text>
<text transform="translate(98.25 344.20)" font-size="3.0" style="stroke-width:0.08px">4</text>
<text transform="translate(110.20 346.80) scale(0.8824 1)" font-size="5.4" text-anchor="middle" style="stroke-width:0.08px">10</text>
<text transform="translate(113.05 344.20)" font-size="3.0" style="stroke-width:0.08px">5</text>
<text transform="translate(51.90 286.00) scale(0.9606 1)" font-size="4.6" style="stroke-width:0.05px">0.44</text>
<text transform="translate(95.10 286.00) scale(0.9382 1)" font-size="4.6" style="stroke-width:0.05px">4.34</text>
<text transform="translate(51.90 332.20) scale(0.9606 1)" font-size="4.6" style="stroke-width:0.05px">40.2</text>
<text transform="translate(95.10 332.20) scale(0.9382 1)" font-size="4.6" style="stroke-width:0.05px">55.0</text>
<line x1="82.40" y1="276.20" x2="82.40" y2="338.30" stroke="#222" stroke-width="1.1"/>
<line x1="49.90" y1="312.20" x2="111.80" y2="312.20" stroke="#222" stroke-width="1.1"/>
<rect x="49.00" y="317.80" width="1.6" height="3.6" fill="#111"/>
<rect x="65.40" y="337.40" width="3.6" height="1.6" fill="#111"/>
<path d="M149.60,317.70 C149.68,316.37 150.52,314.62 151.60,313.20 C152.68,311.78 155.07,310.87 156.10,309.20 C157.13,307.53 157.47,305.37 157.80,303.20 C158.13,301.03 157.72,298.70 158.10,296.20 C158.48,293.70 159.02,290.45 160.10,288.20 C161.18,285.95 162.85,283.92 164.60,282.70 C166.35,281.48 168.77,281.28 170.60,280.90 C172.43,280.52 173.85,280.27 175.60,280.40 C177.35,280.53 179.52,280.82 181.10,281.70 C182.68,282.58 184.22,283.62 185.10,285.70 C185.98,287.78 186.10,291.12 186.40,294.20 C186.70,297.28 186.45,301.45 186.90,304.20 C187.35,306.95 188.23,308.70 189.10,310.70 C189.97,312.70 191.68,314.53 192.10,316.20 C192.52,317.87 192.85,319.53 191.60,320.70 C190.35,321.87 188.10,322.65 184.60,323.20 C181.10,323.75 175.10,323.97 170.60,324.00 C166.10,324.03 160.85,323.87 157.60,323.40 C154.35,322.93 152.43,322.15 151.10,321.20 C149.77,320.25 149.52,319.03 149.60,317.70Z" fill="#fcfcfc" stroke="#b0b0b0" stroke-width="0.5"/>
<path d="M151.83,317.68 C151.84,316.35 152.07,314.60 152.94,313.19 C153.82,311.78 155.99,310.86 157.06,309.20 C158.13,307.53 158.97,305.37 159.38,303.21 C159.79,301.05 159.30,298.72 159.51,296.23 C159.72,293.73 159.71,290.49 160.65,288.25 C161.59,286.00 163.37,283.97 165.14,282.76 C166.92,281.54 169.60,281.34 171.32,280.96 C173.04,280.58 174.00,280.33 175.45,280.46 C176.91,280.60 178.56,280.88 180.04,281.76 C181.53,282.64 183.38,283.67 184.36,285.75 C185.34,287.83 185.69,291.16 185.90,294.23 C186.12,297.31 185.39,301.47 185.66,304.21 C185.93,306.95 186.64,308.70 187.54,310.69 C188.44,312.69 190.56,314.52 191.06,316.18 C191.56,317.84 191.85,319.51 190.56,320.67 C189.28,321.84 186.67,322.62 183.35,323.17 C180.02,323.72 174.63,323.93 170.62,323.96 C166.61,324.00 162.24,323.83 159.28,323.37 C156.32,322.90 154.11,322.12 152.87,321.17 C151.62,320.22 151.82,319.01 151.83,317.68Z" fill="none" stroke="#b4b4b4" stroke-width="0.5"/>
<path d="M152.76,317.66 C152.88,316.33 153.64,314.59 154.71,313.18 C155.79,311.77 158.29,310.85 159.21,309.20 C160.13,307.54 160.11,305.38 160.23,303.22 C160.35,301.07 159.60,298.74 159.93,296.25 C160.25,293.77 161.11,290.53 162.19,288.29 C163.28,286.05 164.99,284.03 166.43,282.81 C167.88,281.60 169.45,281.40 170.86,281.02 C172.26,280.64 173.30,280.39 174.87,280.53 C176.44,280.66 178.80,280.94 180.28,281.82 C181.76,282.70 183.10,283.73 183.73,285.80 C184.37,287.88 183.93,291.19 184.09,294.26 C184.24,297.33 184.13,301.48 184.65,304.22 C185.18,306.96 186.43,308.70 187.23,310.69 C188.04,312.68 189.27,314.50 189.46,316.16 C189.66,317.82 189.49,319.48 188.41,320.64 C187.32,321.81 185.75,322.58 182.94,323.13 C180.13,323.68 175.39,323.90 171.55,323.93 C167.70,323.96 162.80,323.80 159.88,323.33 C156.96,322.87 155.20,322.09 154.01,321.14 C152.82,320.20 152.65,318.98 152.76,317.66Z" fill="none" stroke="#acacac" stroke-width="0.5"/>
<path d="M155.01,317.64 C155.09,316.31 156.23,314.57 157.04,313.17 C157.86,311.76 159.26,310.85 159.90,309.19 C160.54,307.54 160.57,305.39 160.90,303.23 C161.22,301.08 161.40,298.76 161.84,296.28 C162.28,293.80 162.79,290.57 163.53,288.33 C164.27,286.10 165.03,284.08 166.27,282.87 C167.51,281.66 169.42,281.47 170.97,281.08 C172.53,280.70 174.15,280.46 175.58,280.59 C177.02,280.72 178.53,281.00 179.60,281.88 C180.68,282.76 181.39,283.78 182.03,285.85 C182.67,287.92 183.06,291.23 183.45,294.29 C183.85,297.36 184.06,301.50 184.41,304.23 C184.76,306.96 185.04,308.70 185.55,310.68 C186.06,312.67 187.09,314.49 187.45,316.15 C187.82,317.80 188.55,319.46 187.74,320.62 C186.92,321.77 185.35,322.55 182.56,323.10 C179.77,323.65 174.60,323.86 170.98,323.89 C167.36,323.93 163.25,323.76 160.84,323.30 C158.44,322.83 157.53,322.06 156.55,321.11 C155.58,320.17 154.93,318.96 155.01,317.64Z" fill="none" stroke="#a6a6a6" stroke-width="0.5"/>
<path d="M157.23,317.61 C157.22,316.29 157.26,314.56 157.89,313.15 C158.52,311.75 160.16,310.84 161.00,309.19 C161.85,307.54 162.61,305.39 162.94,303.25 C163.27,301.10 162.87,298.79 162.99,296.31 C163.12,293.83 162.99,290.61 163.69,288.38 C164.38,286.15 165.79,284.14 167.18,282.93 C168.56,281.72 170.69,281.53 172.00,281.15 C173.30,280.77 173.94,280.52 175.00,280.65 C176.06,280.78 177.22,281.06 178.35,281.94 C179.49,282.81 181.00,283.84 181.78,285.90 C182.56,287.97 182.88,291.27 183.02,294.33 C183.17,297.38 182.49,301.51 182.66,304.24 C182.83,306.96 183.35,308.70 184.05,310.68 C184.76,312.66 186.49,314.48 186.90,316.13 C187.31,317.78 187.51,319.43 186.51,320.59 C185.50,321.74 183.40,322.52 180.87,323.06 C178.33,323.61 174.30,323.82 171.31,323.86 C168.31,323.89 165.11,323.73 162.88,323.26 C160.65,322.80 158.86,322.02 157.92,321.08 C156.98,320.14 157.23,318.94 157.23,317.61Z" fill="none" stroke="#a0a0a0" stroke-width="0.5"/>
<path d="M158.16,317.59 C158.26,316.27 158.84,314.54 159.67,313.14 C160.50,311.74 162.46,310.84 163.15,309.19 C163.83,307.54 163.73,305.40 163.78,303.26 C163.82,301.11 163.17,298.81 163.41,296.33 C163.66,293.86 164.40,290.65 165.24,288.43 C166.08,286.20 167.41,284.19 168.46,282.99 C169.50,281.78 170.53,281.59 171.53,281.21 C172.52,280.83 173.24,280.58 174.42,280.71 C175.60,280.84 177.48,281.12 178.60,282.00 C179.72,282.87 180.70,283.89 181.14,285.95 C181.57,288.01 181.11,291.31 181.20,294.36 C181.29,297.41 181.24,301.53 181.67,304.25 C182.09,306.96 183.15,308.69 183.75,310.67 C184.35,312.65 185.19,314.46 185.29,316.11 C185.39,317.76 185.16,319.41 184.35,320.56 C183.55,321.71 182.50,322.49 180.48,323.03 C178.45,323.58 175.05,323.79 172.22,323.82 C169.39,323.86 165.66,323.69 163.47,323.23 C161.28,322.77 159.96,321.99 159.07,321.05 C158.19,320.11 158.06,318.91 158.16,317.59Z" fill="none" stroke="#9a9a9a" stroke-width="0.5"/>
<path d="M171.60,281.70 C172.43,276.37 174.93,280.95 176.60,281.20 C178.27,281.45 180.35,282.03 181.60,283.20 C182.85,284.37 183.55,285.87 184.10,288.20 C184.65,290.53 184.65,294.20 184.90,297.20 C185.15,300.20 185.15,303.70 185.60,306.20 C186.05,308.70 188.43,311.03 187.60,312.20 C186.77,313.37 183.27,313.03 180.60,313.20 C177.93,313.37 173.10,318.45 171.60,313.20 C170.10,307.95 170.77,287.03 171.60,281.70Z" fill="#dadada" stroke="#a0a0a0" stroke-width="0.45"/>
<path d="M171.40,283.70 C172.02,278.48 173.65,281.87 175.10,281.70 C176.55,281.53 179.02,281.62 180.10,282.70 C181.18,283.78 181.35,285.62 181.60,288.20 C181.85,290.78 181.43,295.03 181.60,298.20 C181.77,301.37 182.35,304.78 182.60,307.20 C182.85,309.62 184.97,311.73 183.10,312.70 C181.23,313.67 173.35,317.83 171.40,313.00 C169.45,308.17 170.78,288.92 171.40,283.70Z" fill="#c4c4c4" stroke="#8c8c8c" stroke-width="0.5"/>
<path d="M171.96,284.43 C172.51,279.47 173.94,282.68 175.22,282.52 C176.50,282.37 178.67,282.45 179.62,283.47 C180.57,284.50 180.72,286.25 180.94,288.70 C181.16,291.15 180.79,295.19 180.94,298.20 C181.09,301.21 181.60,304.45 181.82,306.75 C182.04,309.05 183.90,311.06 182.26,311.97 C180.62,312.89 173.68,316.85 171.96,312.26 C170.25,307.67 171.42,289.38 171.96,284.43Z" fill="none" stroke="#8c8c8c" stroke-width="0.5"/>
<path d="M172.53,285.15 C173.00,280.45 174.24,283.50 175.34,283.35 C176.44,283.20 178.32,283.27 179.14,284.25 C179.96,285.23 180.09,286.88 180.28,289.20 C180.47,291.52 180.15,295.35 180.28,298.20 C180.41,301.05 180.85,304.12 181.04,306.30 C181.23,308.48 182.84,310.38 181.42,311.25 C180.00,312.12 174.01,315.87 172.53,311.52 C171.05,307.17 172.06,289.84 172.53,285.15Z" fill="none" stroke="#8c8c8c" stroke-width="0.5"/>
<path d="M173.09,285.88 C173.49,281.44 174.53,284.32 175.46,284.18 C176.39,284.03 177.97,284.10 178.66,285.02 C179.35,285.95 179.46,287.50 179.62,289.70 C179.78,291.90 179.51,295.51 179.62,298.20 C179.73,300.89 180.10,303.80 180.26,305.85 C180.42,307.90 181.77,309.70 180.58,310.52 C179.39,311.35 174.34,314.89 173.09,310.78 C171.84,306.67 172.70,290.31 173.09,285.88Z" fill="none" stroke="#8c8c8c" stroke-width="0.5"/>
<path d="M173.66,286.60 C173.98,282.43 174.83,285.13 175.58,285.00 C176.33,284.87 177.62,284.93 178.18,285.80 C178.74,286.67 178.83,288.13 178.96,290.20 C179.09,292.27 178.87,295.67 178.96,298.20 C179.05,300.73 179.35,303.47 179.48,305.40 C179.61,307.33 180.71,309.03 179.74,309.80 C178.77,310.57 174.67,313.91 173.66,310.04 C172.64,306.17 173.34,290.77 173.66,286.60Z" fill="none" stroke="#8c8c8c" stroke-width="0.5"/>
<path d="M174.22,287.32 C174.47,283.41 175.12,285.95 175.70,285.82 C176.28,285.70 177.27,285.76 177.70,286.57 C178.13,287.39 178.20,288.76 178.30,290.70 C178.40,292.64 178.23,295.82 178.30,298.20 C178.37,300.57 178.60,303.14 178.70,304.95 C178.80,306.76 179.65,308.35 178.90,309.07 C178.15,309.80 175.00,312.93 174.22,309.30 C173.44,305.68 173.97,291.24 174.22,287.32Z" fill="none" stroke="#8c8c8c" stroke-width="0.5"/>
<path d="M175.80,287.20 C175.00,293.20 175.80,300.20 175.20,306.20" stroke="#f6f6f6" stroke-width="1.0" fill="none" stroke-dasharray="3 1.2"/>
<path d="M150.10,317.70 C149.93,316.20 152.52,314.25 154.60,313.20 C156.68,312.15 159.60,311.77 162.60,311.40 C165.60,311.03 169.60,311.00 172.60,311.00 C175.60,311.00 177.93,311.03 180.60,311.40 C183.27,311.77 186.80,312.15 188.60,313.20 C190.40,314.25 191.48,316.20 191.40,317.70 C191.32,319.20 191.40,321.20 188.10,322.20 C184.80,323.20 177.02,323.70 171.60,323.70 C166.18,323.70 159.18,323.20 155.60,322.20 C152.02,321.20 150.27,319.20 150.10,317.70Z" fill="#d2d2d2" stroke="#b0b0b0" stroke-width="0.5"/>
<path d="M151.62,317.74 C151.46,316.34 153.87,314.53 155.80,313.55 C157.74,312.57 160.45,312.22 163.24,311.88 C166.03,311.53 169.75,311.50 172.54,311.50 C175.33,311.50 177.50,311.53 179.98,311.88 C182.46,312.22 185.75,312.57 187.42,313.55 C189.10,314.53 190.11,316.34 190.03,317.74 C189.95,319.13 190.03,320.99 186.96,321.92 C183.89,322.85 176.65,323.31 171.61,323.31 C166.58,323.31 160.07,322.85 156.73,321.92 C153.40,320.99 151.77,319.13 151.62,317.74Z" fill="none" stroke="#a0a0a0" stroke-width="0.5"/>
<path d="M153.14,317.77 C152.99,316.48 155.22,314.80 157.01,313.90 C158.80,313.00 161.31,312.67 163.89,312.35 C166.47,312.04 169.91,312.01 172.49,312.01 C175.07,312.01 177.07,312.04 179.37,312.35 C181.66,312.67 184.70,313.00 186.25,313.90 C187.80,314.80 188.73,316.48 188.66,317.77 C188.58,319.06 188.66,320.78 185.82,321.64 C182.98,322.50 176.29,322.93 171.63,322.93 C166.97,322.93 160.95,322.50 157.87,321.64 C154.79,320.78 153.28,319.06 153.14,317.77Z" fill="none" stroke="#8c8c8c" stroke-width="0.5"/>
<path d="M154.44,317.80 C154.31,316.60 156.37,315.04 158.04,314.20 C159.71,313.36 162.04,313.05 164.44,312.76 C166.84,312.47 170.04,312.44 172.44,312.44 C174.84,312.44 176.71,312.47 178.84,312.76 C180.97,313.05 183.80,313.36 185.24,314.20 C186.68,315.04 187.55,316.60 187.48,317.80 C187.41,319.00 187.48,320.60 184.84,321.40 C182.20,322.20 175.97,322.60 171.64,322.60 C167.31,322.60 161.71,322.20 158.84,321.40 C155.97,320.60 154.57,319.00 154.44,317.80Z" fill="none" stroke="#5a5a5a" stroke-width="0.6"/>
<path d="M155.42,317.82 C155.29,316.69 157.24,315.22 158.81,314.43 C160.39,313.63 162.59,313.34 164.85,313.07 C167.12,312.79 170.14,312.76 172.40,312.76 C174.67,312.76 176.43,312.79 178.44,313.07 C180.46,313.34 183.12,313.63 184.48,314.43 C185.84,315.22 186.66,316.69 186.60,317.82 C186.54,318.95 186.60,320.46 184.11,321.22 C181.61,321.97 175.74,322.35 171.65,322.35 C167.56,322.35 162.27,321.97 159.57,321.22 C156.86,320.46 155.54,318.95 155.42,317.82Z" fill="none" stroke="#2a2a2a" stroke-width="0.9"/>
<path d="M156.39,317.84 C156.27,316.78 158.11,315.40 159.59,314.65 C161.07,313.90 163.14,313.63 165.27,313.37 C167.40,313.11 170.24,313.09 172.37,313.09 C174.50,313.09 176.15,313.11 178.05,313.37 C179.94,313.63 182.45,313.90 183.73,314.65 C185.01,315.40 185.78,316.78 185.72,317.84 C185.66,318.91 185.72,320.33 183.37,321.04 C181.03,321.75 175.50,322.10 171.66,322.10 C167.81,322.10 162.84,321.75 160.30,321.04 C157.75,320.33 156.51,318.91 156.39,317.84Z" fill="#e0e0e0" stroke="#262626" stroke-width="0.9"/>
<path d="M159.21,317.91 C159.12,317.04 160.62,315.91 161.82,315.30 C163.03,314.69 164.72,314.47 166.46,314.26 C168.20,314.04 170.52,314.02 172.26,314.02 C174.00,314.02 175.36,314.04 176.90,314.26 C178.45,314.47 180.50,314.69 181.54,315.30 C182.59,315.91 183.22,317.04 183.17,317.91 C183.12,318.78 183.17,319.94 181.25,320.52 C179.34,321.10 174.83,321.39 171.68,321.39 C168.54,321.39 164.48,321.10 162.40,320.52 C160.33,319.94 159.31,318.78 159.21,317.91Z" fill="none" stroke="#a8a8a8" stroke-width="0.5"/>
<path d="M162.03,317.97 C161.96,317.30 163.12,316.42 164.06,315.95 C165.00,315.48 166.31,315.31 167.66,315.14 C169.01,314.97 170.81,314.96 172.16,314.96 C173.51,314.96 174.56,314.97 175.76,315.14 C176.96,315.31 178.55,315.48 179.36,315.95 C180.17,316.42 180.66,317.30 180.62,317.97 C180.58,318.65 180.62,319.55 179.13,320.00 C177.65,320.45 174.15,320.68 171.71,320.68 C169.27,320.68 166.12,320.45 164.51,320.00 C162.90,319.55 162.11,318.65 162.03,317.97Z" fill="none" stroke="#b8b8b8" stroke-width="0.5"/>
<path d="M164.86,318.04 C164.80,317.56 165.63,316.94 166.30,316.60 C166.96,316.26 167.90,316.14 168.86,316.02 C169.82,315.91 171.10,315.90 172.06,315.90 C173.02,315.90 173.76,315.91 174.62,316.02 C175.47,316.14 176.60,316.26 177.18,316.60 C177.75,316.94 178.10,317.56 178.07,318.04 C178.05,318.52 178.07,319.16 177.02,319.48 C175.96,319.80 173.47,319.96 171.74,319.96 C170.00,319.96 167.76,319.80 166.62,319.48 C165.47,319.16 164.91,318.52 164.86,318.04Z" fill="none" stroke="#c8c8c8" stroke-width="0.5"/>
<path d="M156.60,319.20 C157.60,319.65 160.02,321.35 162.60,321.90 C165.18,322.45 168.77,322.53 172.10,322.50 C175.43,322.47 180.18,322.28 182.60,321.70 C185.02,321.12 185.93,319.45 186.60,319.00" fill="none" stroke="#222" stroke-width="0.8"/>
<path d="M159.60,318.60 L179.60,318.30" stroke="#fff" stroke-width="0.8" stroke-dasharray="1.4 0.9" opacity="0.8"/>
<rect x="138.30" y="276.20" width="61.30" height="62.10" fill="none" stroke="#8c8c8c" stroke-width="0.7"/>
<line x1="138.30" y1="275.90" x2="138.30" y2="338.80" stroke="#222" stroke-width="0.9"/>
<line x1="137.80" y1="338.30" x2="199.90" y2="338.30" stroke="#222" stroke-width="0.9"/>
<line x1="136.50" y1="277.40" x2="138.30" y2="277.40" stroke="#222" stroke-width="0.7"/>
<line x1="136.50" y1="290.00" x2="138.30" y2="290.00" stroke="#222" stroke-width="0.7"/>
<line x1="136.50" y1="304.50" x2="138.30" y2="304.50" stroke="#222" stroke-width="0.7"/>
<line x1="136.50" y1="319.50" x2="138.30" y2="319.50" stroke="#222" stroke-width="0.7"/>
<line x1="136.50" y1="334.50" x2="138.30" y2="334.50" stroke="#222" stroke-width="0.7"/>
<line x1="137.40" y1="279.92" x2="138.30" y2="279.92" stroke="#444" stroke-width="0.5"/>
<line x1="137.40" y1="282.44" x2="138.30" y2="282.44" stroke="#444" stroke-width="0.5"/>
<line x1="137.40" y1="284.96" x2="138.30" y2="284.96" stroke="#444" stroke-width="0.5"/>
<line x1="137.40" y1="287.48" x2="138.30" y2="287.48" stroke="#444" stroke-width="0.5"/>
<line x1="137.40" y1="292.90" x2="138.30" y2="292.90" stroke="#444" stroke-width="0.5"/>
<line x1="137.40" y1="295.80" x2="138.30" y2="295.80" stroke="#444" stroke-width="0.5"/>
<line x1="137.40" y1="298.70" x2="138.30" y2="298.70" stroke="#444" stroke-width="0.5"/>
<line x1="137.40" y1="301.60" x2="138.30" y2="301.60" stroke="#444" stroke-width="0.5"/>
<line x1="137.40" y1="307.50" x2="138.30" y2="307.50" stroke="#444" stroke-width="0.5"/>
<line x1="137.40" y1="310.50" x2="138.30" y2="310.50" stroke="#444" stroke-width="0.5"/>
<line x1="137.40" y1="313.50" x2="138.30" y2="313.50" stroke="#444" stroke-width="0.5"/>
<line x1="137.40" y1="316.50" x2="138.30" y2="316.50" stroke="#444" stroke-width="0.5"/>
<line x1="137.40" y1="322.50" x2="138.30" y2="322.50" stroke="#444" stroke-width="0.5"/>
<line x1="137.40" y1="325.50" x2="138.30" y2="325.50" stroke="#444" stroke-width="0.5"/>
<line x1="137.40" y1="328.50" x2="138.30" y2="328.50" stroke="#444" stroke-width="0.5"/>
<line x1="137.40" y1="331.50" x2="138.30" y2="331.50" stroke="#444" stroke-width="0.5"/>
<line x1="141.50" y1="338.30" x2="141.50" y2="340.10" stroke="#222" stroke-width="0.7"/>
<line x1="156.90" y1="338.30" x2="156.90" y2="340.10" stroke="#222" stroke-width="0.7"/>
<line x1="167.90" y1="338.30" x2="167.90" y2="340.10" stroke="#222" stroke-width="0.7"/>
<line x1="183.50" y1="338.30" x2="183.50" y2="340.10" stroke="#222" stroke-width="0.7"/>
<line x1="198.30" y1="338.30" x2="198.30" y2="340.10" stroke="#222" stroke-width="0.7"/>
<line x1="144.58" y1="338.30" x2="144.58" y2="339.20" stroke="#444" stroke-width="0.5"/>
<line x1="147.66" y1="338.30" x2="147.66" y2="339.20" stroke="#444" stroke-width="0.5"/>
<line x1="150.74" y1="338.30" x2="150.74" y2="339.20" stroke="#444" stroke-width="0.5"/>
<line x1="153.82" y1="338.30" x2="153.82" y2="339.20" stroke="#444" stroke-width="0.5"/>
<line x1="159.10" y1="338.30" x2="159.10" y2="339.20" stroke="#444" stroke-width="0.5"/>
<line x1="161.30" y1="338.30" x2="161.30" y2="339.20" stroke="#444" stroke-width="0.5"/>
<line x1="163.50" y1="338.30" x2="163.50" y2="339.20" stroke="#444" stroke-width="0.5"/>
<line x1="165.70" y1="338.30" x2="165.70" y2="339.20" stroke="#444" stroke-width="0.5"/>
<line x1="171.02" y1="338.30" x2="171.02" y2="339.20" stroke="#444" stroke-width="0.5"/>
<line x1="174.14" y1="338.30" x2="174.14" y2="339.20" stroke="#444" stroke-width="0.5"/>
<line x1="177.26" y1="338.30" x2="177.26" y2="339.20" stroke="#444" stroke-width="0.5"/>
<line x1="180.38" y1="338.30" x2="180.38" y2="339.20" stroke="#444" stroke-width="0.5"/>
<line x1="186.46" y1="338.30" x2="186.46" y2="339.20" stroke="#444" stroke-width="0.5"/>
<line x1="189.42" y1="338.30" x2="189.42" y2="339.20" stroke="#444" stroke-width="0.5"/>
<line x1="192.38" y1="338.30" x2="192.38" y2="339.20" stroke="#444" stroke-width="0.5"/>
<line x1="195.34" y1="338.30" x2="195.34" y2="339.20" stroke="#444" stroke-width="0.5"/>
<text transform="translate(131.70 279.34) scale(0.8824 1)" font-size="5.4" text-anchor="end" style="stroke-width:0.08px">10</text>
<text transform="translate(132.00 276.74)" font-size="3.0" style="stroke-width:0.08px">5</text>
<text transform="translate(131.70 291.94) scale(0.8824 1)" font-size="5.4" text-anchor="end" style="stroke-width:0.08px">10</text>
<text transform="translate(132.00 289.34)" font-size="3.0" style="stroke-width:0.08px">4</text>
<text transform="translate(131.70 306.44) scale(0.8824 1)" font-size="5.4" text-anchor="end" style="stroke-width:0.08px">10</text>
<text transform="translate(132.00 303.84)" font-size="3.0" style="stroke-width:0.08px">3</text>
<text transform="translate(132.90 321.44)" font-size="5.4" text-anchor="end" style="stroke-width:0.08px">0</text>
<text transform="translate(131.70 336.44) scale(0.9481 1)" font-size="5.4" text-anchor="end" style="stroke-width:0.08px">-10</text>
<text transform="translate(132.00 333.84)" font-size="3.0" style="stroke-width:0.08px">3</text>
<text transform="translate(141.80 346.80) scale(0.9481 1)" font-size="5.4" text-anchor="middle" style="stroke-width:0.08px">-10</text>
<text transform="translate(145.70 344.20)" font-size="3.0" style="stroke-width:0.08px">3</text>
<text transform="translate(156.90 346.80)" font-size="5.4" text-anchor="middle" style="stroke-width:0.08px">0</text>
<text transform="translate(168.20 346.80) scale(0.8824 1)" font-size="5.4" text-anchor="middle" style="stroke-width:0.08px">10</text>
<text transform="translate(171.05 344.20)" font-size="3.0" style="stroke-width:0.08px">3</text>
<text transform="translate(183.80 346.80) scale(0.8824 1)" font-size="5.4" text-anchor="middle" style="stroke-width:0.08px">10</text>
<text transform="translate(186.65 344.20)" font-size="3.0" style="stroke-width:0.08px">4</text>
<text transform="translate(198.60 346.80) scale(0.8824 1)" font-size="5.4" text-anchor="middle" style="stroke-width:0.08px">10</text>
<text transform="translate(201.45 344.20)" font-size="3.0" style="stroke-width:0.08px">5</text>
<text transform="translate(140.30 286.00) scale(0.9606 1)" font-size="4.6" style="stroke-width:0.05px">16.8</text>
<text transform="translate(183.50 286.00) scale(0.9382 1)" font-size="4.6" style="stroke-width:0.05px">33.3</text>
<text transform="translate(140.30 332.20) scale(0.9606 1)" font-size="4.6" style="stroke-width:0.05px">20.2</text>
<text transform="translate(183.50 332.20) scale(0.9382 1)" font-size="4.6" style="stroke-width:0.05px">29.7</text>
<line x1="170.60" y1="276.20" x2="170.60" y2="338.30" stroke="#222" stroke-width="1.1"/>
<line x1="138.30" y1="312.20" x2="199.60" y2="312.20" stroke="#222" stroke-width="1.1"/>
<rect x="137.40" y="317.80" width="1.6" height="3.6" fill="#111"/>
<rect x="153.80" y="337.40" width="3.6" height="1.6" fill="#111"/>
<ellipse cx="82.60" cy="399.50" rx="19.4" ry="6.0" fill="none" stroke="#b5b5b5" stroke-width="0.5"/>
<ellipse cx="82.60" cy="399.50" rx="17.6" ry="5.3" fill="none" stroke="#9a9a9a" stroke-width="0.5"/>
<ellipse cx="82.60" cy="399.50" rx="15.6" ry="4.8" fill="none" stroke="#888" stroke-width="0.5"/>
<ellipse cx="82.90" cy="399.80" rx="15.0" ry="4.7" fill="url(#gD)" opacity="0.95"/>
<ellipse cx="82.90" cy="399.80" rx="13.0" ry="4.0" fill="none" stroke="#222" stroke-width="0.4" opacity="0.6"/>
<ellipse cx="82.90" cy="399.80" rx="10.5" ry="3.2" fill="none" stroke="#222" stroke-width="0.4" opacity="0.6"/>
<ellipse cx="82.90" cy="399.80" rx="8.0" ry="2.4" fill="none" stroke="#222" stroke-width="0.4" opacity="0.6"/>
<path d="M71.60,399.80 Q80.60,398.90 87.60,399.70" stroke="#fff" stroke-width="0.6" fill="none" opacity="0.7"/>
<rect x="49.90" y="356.40" width="61.90" height="62.10" fill="none" stroke="#8c8c8c" stroke-width="0.7"/>
<line x1="49.90" y1="356.10" x2="49.90" y2="419.00" stroke="#222" stroke-width="0.9"/>
<line x1="49.40" y1="418.50" x2="112.10" y2="418.50" stroke="#222" stroke-width="0.9"/>
<line x1="48.10" y1="357.60" x2="49.90" y2="357.60" stroke="#222" stroke-width="0.7"/>
<line x1="48.10" y1="370.20" x2="49.90" y2="370.20" stroke="#222" stroke-width="0.7"/>
<line x1="48.10" y1="384.70" x2="49.90" y2="384.70" stroke="#222" stroke-width="0.7"/>
<line x1="48.10" y1="399.70" x2="49.90" y2="399.70" stroke="#222" stroke-width="0.7"/>
<line x1="48.10" y1="414.70" x2="49.90" y2="414.70" stroke="#222" stroke-width="0.7"/>
<line x1="49.00" y1="360.12" x2="49.90" y2="360.12" stroke="#444" stroke-width="0.5"/>
<line x1="49.00" y1="362.64" x2="49.90" y2="362.64" stroke="#444" stroke-width="0.5"/>
<line x1="49.00" y1="365.16" x2="49.90" y2="365.16" stroke="#444" stroke-width="0.5"/>
<line x1="49.00" y1="367.68" x2="49.90" y2="367.68" stroke="#444" stroke-width="0.5"/>
<line x1="49.00" y1="373.10" x2="49.90" y2="373.10" stroke="#444" stroke-width="0.5"/>
<line x1="49.00" y1="376.00" x2="49.90" y2="376.00" stroke="#444" stroke-width="0.5"/>
<line x1="49.00" y1="378.90" x2="49.90" y2="378.90" stroke="#444" stroke-width="0.5"/>
<line x1="49.00" y1="381.80" x2="49.90" y2="381.80" stroke="#444" stroke-width="0.5"/>
<line x1="49.00" y1="387.70" x2="49.90" y2="387.70" stroke="#444" stroke-width="0.5"/>
<line x1="49.00" y1="390.70" x2="49.90" y2="390.70" stroke="#444" stroke-width="0.5"/>
<line x1="49.00" y1="393.70" x2="49.90" y2="393.70" stroke="#444" stroke-width="0.5"/>
<line x1="49.00" y1="396.70" x2="49.90" y2="396.70" stroke="#444" stroke-width="0.5"/>
<line x1="49.00" y1="402.70" x2="49.90" y2="402.70" stroke="#444" stroke-width="0.5"/>
<line x1="49.00" y1="405.70" x2="49.90" y2="405.70" stroke="#444" stroke-width="0.5"/>
<line x1="49.00" y1="408.70" x2="49.90" y2="408.70" stroke="#444" stroke-width="0.5"/>
<line x1="49.00" y1="411.70" x2="49.90" y2="411.70" stroke="#444" stroke-width="0.5"/>
<line x1="53.10" y1="418.50" x2="53.10" y2="420.30" stroke="#222" stroke-width="0.7"/>
<line x1="68.50" y1="418.50" x2="68.50" y2="420.30" stroke="#222" stroke-width="0.7"/>
<line x1="79.50" y1="418.50" x2="79.50" y2="420.30" stroke="#222" stroke-width="0.7"/>
<line x1="95.10" y1="418.50" x2="95.10" y2="420.30" stroke="#222" stroke-width="0.7"/>
<line x1="109.90" y1="418.50" x2="109.90" y2="420.30" stroke="#222" stroke-width="0.7"/>
<line x1="56.18" y1="418.50" x2="56.18" y2="419.40" stroke="#444" stroke-width="0.5"/>
<line x1="59.26" y1="418.50" x2="59.26" y2="419.40" stroke="#444" stroke-width="0.5"/>
<line x1="62.34" y1="418.50" x2="62.34" y2="419.40" stroke="#444" stroke-width="0.5"/>
<line x1="65.42" y1="418.50" x2="65.42" y2="419.40" stroke="#444" stroke-width="0.5"/>
<line x1="70.70" y1="418.50" x2="70.70" y2="419.40" stroke="#444" stroke-width="0.5"/>
<line x1="72.90" y1="418.50" x2="72.90" y2="419.40" stroke="#444" stroke-width="0.5"/>
<line x1="75.10" y1="418.50" x2="75.10" y2="419.40" stroke="#444" stroke-width="0.5"/>
<line x1="77.30" y1="418.50" x2="77.30" y2="419.40" stroke="#444" stroke-width="0.5"/>
<line x1="82.62" y1="418.50" x2="82.62" y2="419.40" stroke="#444" stroke-width="0.5"/>
<line x1="85.74" y1="418.50" x2="85.74" y2="419.40" stroke="#444" stroke-width="0.5"/>
<line x1="88.86" y1="418.50" x2="88.86" y2="419.40" stroke="#444" stroke-width="0.5"/>
<line x1="91.98" y1="418.50" x2="91.98" y2="419.40" stroke="#444" stroke-width="0.5"/>
<line x1="98.06" y1="418.50" x2="98.06" y2="419.40" stroke="#444" stroke-width="0.5"/>
<line x1="101.02" y1="418.50" x2="101.02" y2="419.40" stroke="#444" stroke-width="0.5"/>
<line x1="103.98" y1="418.50" x2="103.98" y2="419.40" stroke="#444" stroke-width="0.5"/>
<line x1="106.94" y1="418.50" x2="106.94" y2="419.40" stroke="#444" stroke-width="0.5"/>
<text transform="translate(43.30 359.54) scale(0.8824 1)" font-size="5.4" text-anchor="end" style="stroke-width:0.08px">10</text>
<text transform="translate(43.60 356.94)" font-size="3.0" style="stroke-width:0.08px">5</text>
<text transform="translate(43.30 372.14) scale(0.8824 1)" font-size="5.4" text-anchor="end" style="stroke-width:0.08px">10</text>
<text transform="translate(43.60 369.54)" font-size="3.0" style="stroke-width:0.08px">4</text>
<text transform="translate(43.30 386.64) scale(0.8824 1)" font-size="5.4" text-anchor="end" style="stroke-width:0.08px">10</text>
<text transform="translate(43.60 384.04)" font-size="3.0" style="stroke-width:0.08px">3</text>
<text transform="translate(44.50 401.64)" font-size="5.4" text-anchor="end" style="stroke-width:0.08px">0</text>
<text transform="translate(43.30 416.64) scale(0.9481 1)" font-size="5.4" text-anchor="end" style="stroke-width:0.08px">-10</text>
<text transform="translate(43.60 414.04)" font-size="3.0" style="stroke-width:0.08px">3</text>
<text transform="translate(53.40 427.00) scale(0.9481 1)" font-size="5.4" text-anchor="middle" style="stroke-width:0.08px">-10</text>
<text transform="translate(57.30 424.40)" font-size="3.0" style="stroke-width:0.08px">3</text>
<text transform="translate(68.50 427.00)" font-size="5.4" text-anchor="middle" style="stroke-width:0.08px">0</text>
<text transform="translate(79.80 427.00) scale(0.8824 1)" font-size="5.4" text-anchor="middle" style="stroke-width:0.08px">10</text>
<text transform="translate(82.65 424.40)" font-size="3.0" style="stroke-width:0.08px">3</text>
<text transform="translate(95.40 427.00) scale(0.8824 1)" font-size="5.4" text-anchor="middle" style="stroke-width:0.08px">10</text>
<text transform="translate(98.25 424.40)" font-size="3.0" style="stroke-width:0.08px">4</text>
<text transform="translate(110.20 427.00) scale(0.8824 1)" font-size="5.4" text-anchor="middle" style="stroke-width:0.08px">10</text>
<text transform="translate(113.05 424.40)" font-size="3.0" style="stroke-width:0.08px">5</text>
<text transform="translate(51.90 366.20) scale(0.9606 1)" font-size="4.6" style="stroke-width:0.05px">0.69</text>
<text transform="translate(95.10 366.20) scale(0.9382 1)" font-size="4.6" style="stroke-width:0.05px">3.99</text>
<text transform="translate(51.90 412.40) scale(0.9606 1)" font-size="4.6" style="stroke-width:0.05px">46.5</text>
<text transform="translate(95.10 412.40) scale(0.9382 1)" font-size="4.6" style="stroke-width:0.05px">48.8</text>
<line x1="82.40" y1="356.40" x2="82.40" y2="418.50" stroke="#222" stroke-width="1.1"/>
<line x1="49.90" y1="392.40" x2="111.80" y2="392.40" stroke="#222" stroke-width="1.1"/>
<rect x="49.00" y="398.00" width="1.6" height="3.6" fill="#111"/>
<rect x="65.40" y="417.60" width="3.6" height="1.6" fill="#111"/>
<path d="M149.60,397.90 C149.68,396.57 150.52,394.82 151.60,393.40 C152.68,391.98 155.07,391.07 156.10,389.40 C157.13,387.73 157.47,385.57 157.80,383.40 C158.13,381.23 157.72,378.90 158.10,376.40 C158.48,373.90 159.02,370.65 160.10,368.40 C161.18,366.15 162.85,364.12 164.60,362.90 C166.35,361.68 168.77,361.48 170.60,361.10 C172.43,360.72 173.85,360.47 175.60,360.60 C177.35,360.73 179.52,361.02 181.10,361.90 C182.68,362.78 184.22,363.82 185.10,365.90 C185.98,367.98 186.10,371.32 186.40,374.40 C186.70,377.48 186.45,381.65 186.90,384.40 C187.35,387.15 188.23,388.90 189.10,390.90 C189.97,392.90 191.68,394.73 192.10,396.40 C192.52,398.07 192.85,399.73 191.60,400.90 C190.35,402.07 188.10,402.85 184.60,403.40 C181.10,403.95 175.10,404.17 170.60,404.20 C166.10,404.23 160.85,404.07 157.60,403.60 C154.35,403.13 152.43,402.35 151.10,401.40 C149.77,400.45 149.52,399.23 149.60,397.90Z" fill="#fcfcfc" stroke="#b0b0b0" stroke-width="0.5"/>
<path d="M151.83,397.88 C151.84,396.55 152.07,394.80 152.94,393.39 C153.82,391.98 155.99,391.06 157.06,389.40 C158.13,387.73 158.97,385.57 159.38,383.41 C159.79,381.25 159.30,378.92 159.51,376.43 C159.72,373.93 159.71,370.69 160.65,368.44 C161.59,366.20 163.37,364.17 165.14,362.96 C166.92,361.74 169.60,361.54 171.32,361.16 C173.04,360.78 174.00,360.53 175.45,360.66 C176.91,360.80 178.56,361.08 180.04,361.96 C181.53,362.84 183.38,363.87 184.36,365.95 C185.34,368.03 185.69,371.36 185.90,374.43 C186.12,377.51 185.39,381.67 185.66,384.41 C185.93,387.15 186.64,388.90 187.54,390.89 C188.44,392.89 190.56,394.72 191.06,396.38 C191.56,398.04 191.85,399.71 190.56,400.87 C189.28,402.04 186.67,402.82 183.35,403.37 C180.02,403.92 174.63,404.13 170.62,404.16 C166.61,404.20 162.24,404.03 159.28,403.57 C156.32,403.10 154.11,402.32 152.87,401.37 C151.62,400.42 151.82,399.21 151.83,397.88Z" fill="none" stroke="#b4b4b4" stroke-width="0.5"/>
<path d="M152.76,397.86 C152.88,396.53 153.64,394.79 154.71,393.38 C155.79,391.97 158.29,391.05 159.21,389.40 C160.13,387.74 160.11,385.58 160.23,383.42 C160.35,381.27 159.60,378.94 159.93,376.45 C160.25,373.97 161.11,370.73 162.19,368.49 C163.28,366.25 164.99,364.23 166.43,363.01 C167.88,361.80 169.45,361.60 170.86,361.22 C172.26,360.84 173.30,360.59 174.87,360.73 C176.44,360.86 178.80,361.14 180.28,362.02 C181.76,362.90 183.10,363.93 183.73,366.00 C184.37,368.08 183.93,371.39 184.09,374.46 C184.24,377.53 184.13,381.68 184.65,384.42 C185.18,387.16 186.43,388.90 187.23,390.89 C188.04,392.88 189.27,394.70 189.46,396.36 C189.66,398.02 189.49,399.68 188.41,400.84 C187.32,402.01 185.75,402.78 182.94,403.33 C180.13,403.88 175.39,404.10 171.55,404.13 C167.70,404.16 162.80,404.00 159.88,403.53 C156.96,403.07 155.20,402.29 154.01,401.34 C152.82,400.40 152.65,399.18 152.76,397.86Z" fill="none" stroke="#acacac" stroke-width="0.5"/>
<path d="M155.01,397.84 C155.09,396.51 156.23,394.77 157.04,393.37 C157.86,391.96 159.26,391.05 159.90,389.39 C160.54,387.74 160.57,385.59 160.90,383.43 C161.22,381.28 161.40,378.96 161.84,376.48 C162.28,374.00 162.79,370.77 163.53,368.53 C164.27,366.30 165.03,364.28 166.27,363.07 C167.51,361.86 169.42,361.67 170.97,361.28 C172.53,360.90 174.15,360.66 175.58,360.79 C177.02,360.92 178.53,361.20 179.60,362.08 C180.68,362.96 181.39,363.98 182.03,366.05 C182.67,368.12 183.06,371.43 183.45,374.49 C183.85,377.56 184.06,381.70 184.41,384.43 C184.76,387.16 185.04,388.90 185.55,390.88 C186.06,392.87 187.09,394.69 187.45,396.35 C187.82,398.00 188.55,399.66 187.74,400.82 C186.92,401.97 185.35,402.75 182.56,403.30 C179.77,403.85 174.60,404.06 170.98,404.09 C167.36,404.13 163.25,403.96 160.84,403.50 C158.44,403.03 157.53,402.26 156.55,401.31 C155.58,400.37 154.93,399.16 155.01,397.84Z" fill="none" stroke="#a6a6a6" stroke-width="0.5"/>
<path d="M157.23,397.81 C157.22,396.49 157.26,394.76 157.89,393.35 C158.52,391.95 160.16,391.04 161.00,389.39 C161.85,387.74 162.61,385.59 162.94,383.44 C163.27,381.30 162.87,378.99 162.99,376.51 C163.12,374.03 162.99,370.81 163.69,368.58 C164.38,366.35 165.79,364.34 167.18,363.13 C168.56,361.92 170.69,361.73 172.00,361.35 C173.30,360.97 173.94,360.72 175.00,360.85 C176.06,360.98 177.22,361.26 178.35,362.14 C179.49,363.01 181.00,364.04 181.78,366.10 C182.56,368.17 182.88,371.47 183.02,374.53 C183.17,377.58 182.49,381.71 182.66,384.44 C182.83,387.16 183.35,388.90 184.05,390.88 C184.76,392.86 186.49,394.68 186.90,396.33 C187.31,397.98 187.51,399.63 186.51,400.79 C185.50,401.94 183.40,402.72 180.87,403.26 C178.33,403.81 174.30,404.02 171.31,404.06 C168.31,404.09 165.11,403.93 162.88,403.46 C160.65,403.00 158.86,402.22 157.92,401.28 C156.98,400.34 157.23,399.14 157.23,397.81Z" fill="none" stroke="#a0a0a0" stroke-width="0.5"/>
<path d="M158.16,397.79 C158.26,396.47 158.84,394.74 159.67,393.34 C160.50,391.94 162.46,391.04 163.15,389.39 C163.83,387.74 163.73,385.60 163.78,383.46 C163.82,381.31 163.17,379.01 163.41,376.53 C163.66,374.06 164.40,370.85 165.24,368.62 C166.08,366.40 167.41,364.39 168.46,363.19 C169.50,361.98 170.53,361.79 171.53,361.41 C172.52,361.03 173.24,360.78 174.42,360.91 C175.60,361.04 177.48,361.32 178.60,362.20 C179.72,363.07 180.70,364.09 181.14,366.15 C181.57,368.21 181.11,371.51 181.20,374.56 C181.29,377.61 181.24,381.73 181.67,384.44 C182.09,387.16 183.15,388.89 183.75,390.87 C184.35,392.85 185.19,394.66 185.29,396.31 C185.39,397.96 185.16,399.61 184.35,400.76 C183.55,401.91 182.50,402.69 180.48,403.23 C178.45,403.78 175.05,403.99 172.22,404.02 C169.39,404.06 165.66,403.89 163.47,403.43 C161.28,402.97 159.96,402.19 159.07,401.25 C158.19,400.31 158.06,399.11 158.16,397.79Z" fill="none" stroke="#9a9a9a" stroke-width="0.5"/>
<path d="M171.60,361.90 C172.43,356.57 174.93,361.15 176.60,361.40 C178.27,361.65 180.35,362.23 181.60,363.40 C182.85,364.57 183.55,366.07 184.10,368.40 C184.65,370.73 184.65,374.40 184.90,377.40 C185.15,380.40 185.15,383.90 185.60,386.40 C186.05,388.90 188.43,391.23 187.60,392.40 C186.77,393.57 183.27,393.23 180.60,393.40 C177.93,393.57 173.10,398.65 171.60,393.40 C170.10,388.15 170.77,367.23 171.60,361.90Z" fill="#dadada" stroke="#a0a0a0" stroke-width="0.45"/>
<path d="M171.40,363.90 C172.02,358.68 173.65,362.07 175.10,361.90 C176.55,361.73 179.02,361.82 180.10,362.90 C181.18,363.98 181.35,365.82 181.60,368.40 C181.85,370.98 181.43,375.23 181.60,378.40 C181.77,381.57 182.35,384.98 182.60,387.40 C182.85,389.82 184.97,391.93 183.10,392.90 C181.23,393.87 173.35,398.03 171.40,393.20 C169.45,388.37 170.78,369.12 171.40,363.90Z" fill="#c4c4c4" stroke="#8c8c8c" stroke-width="0.5"/>
<path d="M171.96,364.62 C172.51,359.67 173.94,362.88 175.22,362.72 C176.50,362.57 178.67,362.65 179.62,363.67 C180.57,364.70 180.72,366.45 180.94,368.90 C181.16,371.35 180.79,375.39 180.94,378.40 C181.09,381.41 181.60,384.65 181.82,386.95 C182.04,389.25 183.90,391.26 182.26,392.17 C180.62,393.09 173.68,397.05 171.96,392.46 C170.25,387.87 171.42,369.58 171.96,364.62Z" fill="none" stroke="#8c8c8c" stroke-width="0.5"/>
<path d="M172.53,365.35 C173.00,360.65 174.24,363.70 175.34,363.55 C176.44,363.40 178.32,363.47 179.14,364.45 C179.96,365.43 180.09,367.07 180.28,369.40 C180.47,371.72 180.15,375.55 180.28,378.40 C180.41,381.25 180.85,384.32 181.04,386.50 C181.23,388.68 182.84,390.58 181.42,391.45 C180.00,392.32 174.01,396.07 172.53,391.72 C171.05,387.37 172.06,370.04 172.53,365.35Z" fill="none" stroke="#8c8c8c" stroke-width="0.5"/>
<path d="M173.09,366.07 C173.49,361.64 174.53,364.52 175.46,364.38 C176.39,364.23 177.97,364.30 178.66,365.22 C179.35,366.15 179.46,367.70 179.62,369.90 C179.78,372.10 179.51,375.71 179.62,378.40 C179.73,381.09 180.10,384.00 180.26,386.05 C180.42,388.10 181.77,389.90 180.58,390.72 C179.39,391.55 174.34,395.09 173.09,390.98 C171.84,386.87 172.70,370.51 173.09,366.07Z" fill="none" stroke="#8c8c8c" stroke-width="0.5"/>
<path d="M173.66,366.80 C173.98,362.63 174.83,365.33 175.58,365.20 C176.33,365.07 177.62,365.13 178.18,366.00 C178.74,366.87 178.83,368.33 178.96,370.40 C179.09,372.47 178.87,375.87 178.96,378.40 C179.05,380.93 179.35,383.67 179.48,385.60 C179.61,387.53 180.71,389.23 179.74,390.00 C178.77,390.77 174.67,394.11 173.66,390.24 C172.64,386.37 173.34,370.97 173.66,366.80Z" fill="none" stroke="#8c8c8c" stroke-width="0.5"/>
<path d="M174.22,367.52 C174.47,363.61 175.12,366.15 175.70,366.02 C176.28,365.90 177.27,365.96 177.70,366.77 C178.13,367.59 178.20,368.96 178.30,370.90 C178.40,372.84 178.23,376.02 178.30,378.40 C178.37,380.77 178.60,383.34 178.70,385.15 C178.80,386.96 179.65,388.55 178.90,389.27 C178.15,390.00 175.00,393.12 174.22,389.50 C173.44,385.88 173.97,371.44 174.22,367.52Z" fill="none" stroke="#8c8c8c" stroke-width="0.5"/>
<path d="M175.80,367.40 C175.00,373.40 175.80,380.40 175.20,386.40" stroke="#f6f6f6" stroke-width="1.0" fill="none" stroke-dasharray="3 1.2"/>
<path d="M150.10,397.90 C149.93,396.40 152.52,394.45 154.60,393.40 C156.68,392.35 159.60,391.97 162.60,391.60 C165.60,391.23 169.60,391.20 172.60,391.20 C175.60,391.20 177.93,391.23 180.60,391.60 C183.27,391.97 186.80,392.35 188.60,393.40 C190.40,394.45 191.48,396.40 191.40,397.90 C191.32,399.40 191.40,401.40 188.10,402.40 C184.80,403.40 177.02,403.90 171.60,403.90 C166.18,403.90 159.18,403.40 155.60,402.40 C152.02,401.40 150.27,399.40 150.10,397.90Z" fill="#d2d2d2" stroke="#b0b0b0" stroke-width="0.5"/>
<path d="M151.62,397.94 C151.46,396.54 153.87,394.73 155.80,393.75 C157.74,392.77 160.45,392.42 163.24,392.08 C166.03,391.73 169.75,391.70 172.54,391.70 C175.33,391.70 177.50,391.73 179.98,392.08 C182.46,392.42 185.75,392.77 187.42,393.75 C189.10,394.73 190.11,396.54 190.03,397.94 C189.95,399.33 190.03,401.19 186.96,402.12 C183.89,403.05 176.65,403.51 171.61,403.51 C166.58,403.51 160.07,403.05 156.73,402.12 C153.40,401.19 151.77,399.33 151.62,397.94Z" fill="none" stroke="#a0a0a0" stroke-width="0.5"/>
<path d="M153.14,397.97 C152.99,396.68 155.22,395.00 157.01,394.10 C158.80,393.20 161.31,392.87 163.89,392.55 C166.47,392.24 169.91,392.21 172.49,392.21 C175.07,392.21 177.07,392.24 179.37,392.55 C181.66,392.87 184.70,393.20 186.25,394.10 C187.80,395.00 188.73,396.68 188.66,397.97 C188.58,399.26 188.66,400.98 185.82,401.84 C182.98,402.70 176.29,403.13 171.63,403.13 C166.97,403.13 160.95,402.70 157.87,401.84 C154.79,400.98 153.28,399.26 153.14,397.97Z" fill="none" stroke="#8c8c8c" stroke-width="0.5"/>
<path d="M154.44,398.00 C154.31,396.80 156.37,395.24 158.04,394.40 C159.71,393.56 162.04,393.25 164.44,392.96 C166.84,392.67 170.04,392.64 172.44,392.64 C174.84,392.64 176.71,392.67 178.84,392.96 C180.97,393.25 183.80,393.56 185.24,394.40 C186.68,395.24 187.55,396.80 187.48,398.00 C187.41,399.20 187.48,400.80 184.84,401.60 C182.20,402.40 175.97,402.80 171.64,402.80 C167.31,402.80 161.71,402.40 158.84,401.60 C155.97,400.80 154.57,399.20 154.44,398.00Z" fill="none" stroke="#5a5a5a" stroke-width="0.6"/>
<path d="M155.42,398.02 C155.29,396.89 157.24,395.42 158.81,394.62 C160.39,393.83 162.59,393.54 164.85,393.27 C167.12,392.99 170.14,392.96 172.40,392.96 C174.67,392.96 176.43,392.99 178.44,393.27 C180.46,393.54 183.12,393.83 184.48,394.62 C185.84,395.42 186.66,396.89 186.60,398.02 C186.54,399.15 186.60,400.66 184.11,401.42 C181.61,402.17 175.74,402.55 171.65,402.55 C167.56,402.55 162.27,402.17 159.57,401.42 C156.86,400.66 155.54,399.15 155.42,398.02Z" fill="none" stroke="#2a2a2a" stroke-width="0.9"/>
<path d="M156.39,398.04 C156.27,396.98 158.11,395.60 159.59,394.85 C161.07,394.10 163.14,393.83 165.27,393.57 C167.40,393.31 170.24,393.29 172.37,393.29 C174.50,393.29 176.15,393.31 178.05,393.57 C179.94,393.83 182.45,394.10 183.73,394.85 C185.01,395.60 185.78,396.98 185.72,398.04 C185.66,399.11 185.72,400.53 183.37,401.24 C181.03,401.95 175.50,402.30 171.66,402.30 C167.81,402.30 162.84,401.95 160.30,401.24 C157.75,400.53 156.51,399.11 156.39,398.04Z" fill="#e0e0e0" stroke="#262626" stroke-width="0.9"/>
<path d="M159.21,398.11 C159.12,397.24 160.62,396.11 161.82,395.50 C163.03,394.89 164.72,394.67 166.46,394.46 C168.20,394.24 170.52,394.22 172.26,394.22 C174.00,394.22 175.36,394.24 176.90,394.46 C178.45,394.67 180.50,394.89 181.54,395.50 C182.59,396.11 183.22,397.24 183.17,398.11 C183.12,398.98 183.17,400.14 181.25,400.72 C179.34,401.30 174.83,401.59 171.68,401.59 C168.54,401.59 164.48,401.30 162.40,400.72 C160.33,400.14 159.31,398.98 159.21,398.11Z" fill="none" stroke="#a8a8a8" stroke-width="0.5"/>
<path d="M162.03,398.17 C161.96,397.50 163.12,396.62 164.06,396.15 C165.00,395.68 166.31,395.50 167.66,395.34 C169.01,395.17 170.81,395.16 172.16,395.16 C173.51,395.16 174.56,395.17 175.76,395.34 C176.96,395.50 178.55,395.68 179.36,396.15 C180.17,396.62 180.66,397.50 180.62,398.17 C180.58,398.85 180.62,399.75 179.13,400.20 C177.65,400.65 174.15,400.88 171.71,400.88 C169.27,400.88 166.12,400.65 164.51,400.20 C162.90,399.75 162.11,398.85 162.03,398.17Z" fill="none" stroke="#b8b8b8" stroke-width="0.5"/>
<path d="M164.86,398.24 C164.80,397.76 165.63,397.14 166.30,396.80 C166.96,396.46 167.90,396.34 168.86,396.22 C169.82,396.11 171.10,396.10 172.06,396.10 C173.02,396.10 173.76,396.11 174.62,396.22 C175.47,396.34 176.60,396.46 177.18,396.80 C177.75,397.14 178.10,397.76 178.07,398.24 C178.05,398.72 178.07,399.36 177.02,399.68 C175.96,400.00 173.47,400.16 171.74,400.16 C170.00,400.16 167.76,400.00 166.62,399.68 C165.47,399.36 164.91,398.72 164.86,398.24Z" fill="none" stroke="#c8c8c8" stroke-width="0.5"/>
<path d="M156.60,399.40 C157.60,399.85 160.02,401.55 162.60,402.10 C165.18,402.65 168.77,402.73 172.10,402.70 C175.43,402.67 180.18,402.48 182.60,401.90 C185.02,401.32 185.93,399.65 186.60,399.20" fill="none" stroke="#222" stroke-width="0.8"/>
<path d="M159.60,398.80 L179.60,398.50" stroke="#fff" stroke-width="0.8" stroke-dasharray="1.4 0.9" opacity="0.8"/>
<rect x="138.30" y="356.40" width="61.30" height="62.10" fill="none" stroke="#8c8c8c" stroke-width="0.7"/>
<line x1="138.30" y1="356.10" x2="138.30" y2="419.00" stroke="#222" stroke-width="0.9"/>
<line x1="137.80" y1="418.50" x2="199.90" y2="418.50" stroke="#222" stroke-width="0.9"/>
<line x1="136.50" y1="357.60" x2="138.30" y2="357.60" stroke="#222" stroke-width="0.7"/>
<line x1="136.50" y1="370.20" x2="138.30" y2="370.20" stroke="#222" stroke-width="0.7"/>
<line x1="136.50" y1="384.70" x2="138.30" y2="384.70" stroke="#222" stroke-width="0.7"/>
<line x1="136.50" y1="399.70" x2="138.30" y2="399.70" stroke="#222" stroke-width="0.7"/>
<line x1="136.50" y1="414.70" x2="138.30" y2="414.70" stroke="#222" stroke-width="0.7"/>
<line x1="137.40" y1="360.12" x2="138.30" y2="360.12" stroke="#444" stroke-width="0.5"/>
<line x1="137.40" y1="362.64" x2="138.30" y2="362.64" stroke="#444" stroke-width="0.5"/>
<line x1="137.40" y1="365.16" x2="138.30" y2="365.16" stroke="#444" stroke-width="0.5"/>
<line x1="137.40" y1="367.68" x2="138.30" y2="367.68" stroke="#444" stroke-width="0.5"/>
<line x1="137.40" y1="373.10" x2="138.30" y2="373.10" stroke="#444" stroke-width="0.5"/>
<line x1="137.40" y1="376.00" x2="138.30" y2="376.00" stroke="#444" stroke-width="0.5"/>
<line x1="137.40" y1="378.90" x2="138.30" y2="378.90" stroke="#444" stroke-width="0.5"/>
<line x1="137.40" y1="381.80" x2="138.30" y2="381.80" stroke="#444" stroke-width="0.5"/>
<line x1="137.40" y1="387.70" x2="138.30" y2="387.70" stroke="#444" stroke-width="0.5"/>
<line x1="137.40" y1="390.70" x2="138.30" y2="390.70" stroke="#444" stroke-width="0.5"/>
<line x1="137.40" y1="393.70" x2="138.30" y2="393.70" stroke="#444" stroke-width="0.5"/>
<line x1="137.40" y1="396.70" x2="138.30" y2="396.70" stroke="#444" stroke-width="0.5"/>
<line x1="137.40" y1="402.70" x2="138.30" y2="402.70" stroke="#444" stroke-width="0.5"/>
<line x1="137.40" y1="405.70" x2="138.30" y2="405.70" stroke="#444" stroke-width="0.5"/>
<line x1="137.40" y1="408.70" x2="138.30" y2="408.70" stroke="#444" stroke-width="0.5"/>
<line x1="137.40" y1="411.70" x2="138.30" y2="411.70" stroke="#444" stroke-width="0.5"/>
<line x1="141.50" y1="418.50" x2="141.50" y2="420.30" stroke="#222" stroke-width="0.7"/>
<line x1="156.90" y1="418.50" x2="156.90" y2="420.30" stroke="#222" stroke-width="0.7"/>
<line x1="167.90" y1="418.50" x2="167.90" y2="420.30" stroke="#222" stroke-width="0.7"/>
<line x1="183.50" y1="418.50" x2="183.50" y2="420.30" stroke="#222" stroke-width="0.7"/>
<line x1="198.30" y1="418.50" x2="198.30" y2="420.30" stroke="#222" stroke-width="0.7"/>
<line x1="144.58" y1="418.50" x2="144.58" y2="419.40" stroke="#444" stroke-width="0.5"/>
<line x1="147.66" y1="418.50" x2="147.66" y2="419.40" stroke="#444" stroke-width="0.5"/>
<line x1="150.74" y1="418.50" x2="150.74" y2="419.40" stroke="#444" stroke-width="0.5"/>
<line x1="153.82" y1="418.50" x2="153.82" y2="419.40" stroke="#444" stroke-width="0.5"/>
<line x1="159.10" y1="418.50" x2="159.10" y2="419.40" stroke="#444" stroke-width="0.5"/>
<line x1="161.30" y1="418.50" x2="161.30" y2="419.40" stroke="#444" stroke-width="0.5"/>
<line x1="163.50" y1="418.50" x2="163.50" y2="419.40" stroke="#444" stroke-width="0.5"/>
<line x1="165.70" y1="418.50" x2="165.70" y2="419.40" stroke="#444" stroke-width="0.5"/>
<line x1="171.02" y1="418.50" x2="171.02" y2="419.40" stroke="#444" stroke-width="0.5"/>
<line x1="174.14" y1="418.50" x2="174.14" y2="419.40" stroke="#444" stroke-width="0.5"/>
<line x1="177.26" y1="418.50" x2="177.26" y2="419.40" stroke="#444" stroke-width="0.5"/>
<line x1="180.38" y1="418.50" x2="180.38" y2="419.40" stroke="#444" stroke-width="0.5"/>
<line x1="186.46" y1="418.50" x2="186.46" y2="419.40" stroke="#444" stroke-width="0.5"/>
<line x1="189.42" y1="418.50" x2="189.42" y2="419.40" stroke="#444" stroke-width="0.5"/>
<line x1="192.38" y1="418.50" x2="192.38" y2="419.40" stroke="#444" stroke-width="0.5"/>
<line x1="195.34" y1="418.50" x2="195.34" y2="419.40" stroke="#444" stroke-width="0.5"/>
<text transform="translate(131.70 359.54) scale(0.8824 1)" font-size="5.4" text-anchor="end" style="stroke-width:0.08px">10</text>
<text transform="translate(132.00 356.94)" font-size="3.0" style="stroke-width:0.08px">5</text>
<text transform="translate(131.70 372.14) scale(0.8824 1)" font-size="5.4" text-anchor="end" style="stroke-width:0.08px">10</text>
<text transform="translate(132.00 369.54)" font-size="3.0" style="stroke-width:0.08px">4</text>
<text transform="translate(131.70 386.64) scale(0.8824 1)" font-size="5.4" text-anchor="end" style="stroke-width:0.08px">10</text>
<text transform="translate(132.00 384.04)" font-size="3.0" style="stroke-width:0.08px">3</text>
<text transform="translate(132.90 401.64)" font-size="5.4" text-anchor="end" style="stroke-width:0.08px">0</text>
<text transform="translate(131.70 416.64) scale(0.9481 1)" font-size="5.4" text-anchor="end" style="stroke-width:0.08px">-10</text>
<text transform="translate(132.00 414.04)" font-size="3.0" style="stroke-width:0.08px">3</text>
<text transform="translate(141.80 427.00) scale(0.9481 1)" font-size="5.4" text-anchor="middle" style="stroke-width:0.08px">-10</text>
<text transform="translate(145.70 424.40)" font-size="3.0" style="stroke-width:0.08px">3</text>
<text transform="translate(156.90 427.00)" font-size="5.4" text-anchor="middle" style="stroke-width:0.08px">0</text>
<text transform="translate(168.20 427.00) scale(0.8824 1)" font-size="5.4" text-anchor="middle" style="stroke-width:0.08px">10</text>
<text transform="translate(171.05 424.40)" font-size="3.0" style="stroke-width:0.08px">3</text>
<text transform="translate(183.80 427.00) scale(0.8824 1)" font-size="5.4" text-anchor="middle" style="stroke-width:0.08px">10</text>
<text transform="translate(186.65 424.40)" font-size="3.0" style="stroke-width:0.08px">4</text>
<text transform="translate(198.60 427.00) scale(0.8824 1)" font-size="5.4" text-anchor="middle" style="stroke-width:0.08px">10</text>
<text transform="translate(201.45 424.40)" font-size="3.0" style="stroke-width:0.08px">5</text>
<text transform="translate(140.30 366.20) scale(0.9606 1)" font-size="4.6" style="stroke-width:0.05px">17.3</text>
<text transform="translate(183.50 366.20) scale(0.9382 1)" font-size="4.6" style="stroke-width:0.05px">31.5</text>
<text transform="translate(140.30 412.40) scale(0.9606 1)" font-size="4.6" style="stroke-width:0.05px">21.1</text>
<text transform="translate(183.50 412.40) scale(0.9382 1)" font-size="4.6" style="stroke-width:0.05px">30.1</text>
<line x1="170.60" y1="356.40" x2="170.60" y2="418.50" stroke="#222" stroke-width="1.1"/>
<line x1="138.30" y1="392.40" x2="199.60" y2="392.40" stroke="#222" stroke-width="1.1"/>
<rect x="137.40" y="398.00" width="1.6" height="3.6" fill="#111"/>
<rect x="153.80" y="417.60" width="3.6" height="1.6" fill="#111"/>
<text transform="translate(79.30 272.80)" font-size="7.9" text-anchor="middle" style="stroke-width:0">DNT</text>
<text transform="translate(162.20 272.60)" font-size="8.0" text-anchor="middle" style="stroke-width:0">T</text>
<text transform="translate(171.00 276.00) scale(1.0794 1)" font-size="5.0" text-anchor="middle" style="stroke-width:0.05px">conv</text>
<text transform="translate(22.20 284.60) scale(1.0115 1)" font-size="5.6" text-anchor="middle">-Venetoclax</text>
<text transform="translate(21.30 365.40) scale(1.0173 1)" font-size="5.6" text-anchor="middle">+Venetoclax</text>
<text transform="translate(30.30 419.10) rotate(-90) scale(0.7067 1)" font-size="8.0" text-anchor="middle">CD62L</text>
<text transform="translate(46.50 438.60) scale(0.7603 1)" font-size="7.6" text-anchor="middle">CD45RA</text>
<text transform="translate(7.40 466.40)" font-size="12.5" fill="#000" font-weight="bold">F</text>
<line x1="42.50" y1="475.70" x2="42.50" y2="543.40" stroke="#1e1e1e" stroke-width="1.6"/>
<line x1="39.50" y1="478.50" x2="42.50" y2="478.50" stroke="#1e1e1e" stroke-width="1.0"/>
<text transform="translate(37.20 480.73)" font-size="6.2" text-anchor="end" fill="#333" style="stroke-width:0">1.5</text>
<line x1="39.50" y1="510.70" x2="42.50" y2="510.70" stroke="#1e1e1e" stroke-width="1.0"/>
<text transform="translate(37.20 512.93)" font-size="6.2" text-anchor="end" fill="#333" style="stroke-width:0">1.0</text>
<line x1="39.50" y1="542.60" x2="42.50" y2="542.60" stroke="#1e1e1e" stroke-width="1.0"/>
<text transform="translate(37.20 544.83)" font-size="6.2" text-anchor="end" fill="#333" style="stroke-width:0">0.5</text>
<line x1="41.70" y1="542.60" x2="101.20" y2="542.60" stroke="#1e1e1e" stroke-width="1.6"/>
<line x1="59.60" y1="542.60" x2="59.60" y2="545.80" stroke="#1e1e1e" stroke-width="1.0"/>
<line x1="84.30" y1="542.60" x2="84.30" y2="545.80" stroke="#1e1e1e" stroke-width="1.0"/>
<line x1="59.60" y1="510.70" x2="84.30" y2="489.00" stroke="#a8102f" stroke-width="1.2"/>
<line x1="59.60" y1="510.70" x2="84.30" y2="491.80" stroke="#a8102f" stroke-width="1.2"/>
<line x1="59.60" y1="510.70" x2="84.30" y2="492.90" stroke="#a8102f" stroke-width="1.2"/>
<line x1="59.60" y1="510.70" x2="84.30" y2="495.00" stroke="#a8102f" stroke-width="1.2"/>
<line x1="59.60" y1="510.70" x2="84.30" y2="508.50" stroke="#a8102f" stroke-width="1.2"/>
<circle cx="59.60" cy="510.70" r="1.7" fill="#a8102f"/>
<circle cx="84.30" cy="489.00" r="1.7" fill="#a8102f"/>
<circle cx="84.30" cy="491.80" r="1.7" fill="#a8102f"/>
<circle cx="84.30" cy="492.90" r="1.7" fill="#a8102f"/>
<circle cx="84.30" cy="495.00" r="1.7" fill="#a8102f"/>
<circle cx="84.30" cy="508.50" r="1.7" fill="#a8102f"/>
<line x1="59.00" y1="483.70" x2="85.30" y2="483.70" stroke="#5a5a5a" stroke-width="1.5"/>
<circle cx="71.80" cy="481.10" r="0.80" fill="#3a3a3a"/>
<text transform="translate(61.90 551.80) rotate(-45) scale(0.8789 1)" font-size="6.2" text-anchor="end" style="stroke-width:0.1px">Pretreatment</text>
<text transform="translate(86.60 551.60) rotate(-45) scale(0.8374 1)" font-size="6.4" text-anchor="end" style="stroke-width:0.1px">Day 4</text>
<text transform="translate(14.20 510.00) rotate(-90) scale(0.6728 1)" font-size="8.4" text-anchor="middle">T cell</text>
<text transform="translate(24.20 510.00) rotate(-90) scale(0.7887 1)" font-size="7.4" text-anchor="middle">Relative CD25 MFI</text>
<text transform="translate(117.30 466.40)" font-size="12.5" fill="#000" font-weight="bold">G</text>
<line x1="152.90" y1="480.00" x2="152.90" y2="543.40" stroke="#1e1e1e" stroke-width="1.6"/>
<line x1="149.90" y1="494.60" x2="152.90" y2="494.60" stroke="#1e1e1e" stroke-width="1.0"/>
<text transform="translate(147.60 496.83)" font-size="6.2" text-anchor="end" fill="#333" style="stroke-width:0">1.5</text>
<line x1="149.90" y1="518.60" x2="152.90" y2="518.60" stroke="#1e1e1e" stroke-width="1.0"/>
<text transform="translate(147.60 520.83)" font-size="6.2" text-anchor="end" fill="#333" style="stroke-width:0">1.0</text>
<line x1="149.90" y1="542.60" x2="152.90" y2="542.60" stroke="#1e1e1e" stroke-width="1.0"/>
<text transform="translate(147.60 544.83)" font-size="6.2" text-anchor="end" fill="#333" style="stroke-width:0">0.5</text>
<line x1="152.10" y1="542.60" x2="209.70" y2="542.60" stroke="#1e1e1e" stroke-width="1.6"/>
<line x1="168.30" y1="542.60" x2="168.30" y2="545.80" stroke="#1e1e1e" stroke-width="1.0"/>
<line x1="193.20" y1="542.60" x2="193.20" y2="545.80" stroke="#1e1e1e" stroke-width="1.0"/>
<line x1="168.30" y1="518.60" x2="193.20" y2="483.20" stroke="#a8102f" stroke-width="1.2"/>
<line x1="168.30" y1="518.60" x2="193.20" y2="494.40" stroke="#a8102f" stroke-width="1.2"/>
<line x1="168.30" y1="518.60" x2="193.20" y2="506.80" stroke="#a8102f" stroke-width="1.2"/>
<line x1="168.30" y1="518.60" x2="193.20" y2="513.70" stroke="#a8102f" stroke-width="1.2"/>
<circle cx="168.30" cy="518.60" r="1.7" fill="#a8102f"/>
<circle cx="193.20" cy="483.20" r="1.7" fill="#a8102f"/>
<circle cx="193.20" cy="494.40" r="1.7" fill="#a8102f"/>
<circle cx="193.20" cy="506.80" r="1.7" fill="#a8102f"/>
<circle cx="193.20" cy="513.70" r="1.7" fill="#a8102f"/>
<line x1="168.30" y1="476.40" x2="194.00" y2="476.40" stroke="#5a5a5a" stroke-width="1.5"/>
<circle cx="181.20" cy="473.20" r="0.80" fill="#3a3a3a"/>
<text transform="translate(170.60 551.80) rotate(-45) scale(0.8789 1)" font-size="6.2" text-anchor="end" style="stroke-width:0.1px">Pretreatment</text>
<text transform="translate(195.50 551.60) rotate(-45) scale(0.8374 1)" font-size="6.4" text-anchor="end" style="stroke-width:0.1px">Day 4</text>
<text transform="translate(123.10 518.10) rotate(-90) scale(0.6728 1)" font-size="8.4" text-anchor="middle">T cell</text>
<text transform="translate(133.20 511.60) rotate(-90) scale(0.7918 1)" font-size="7.4" text-anchor="middle">Relative NKG2D MFI</text>
<rect x="0.5" y="0.5" width="519" height="582" fill="none" stroke="#000" stroke-width="1.2"/>
</svg>
</body></html>
